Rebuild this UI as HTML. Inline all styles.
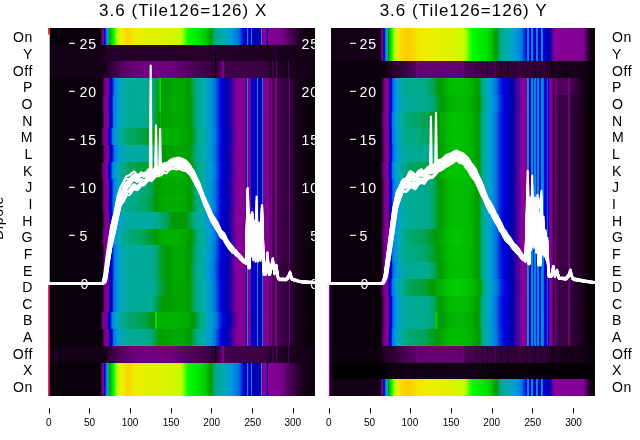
<!DOCTYPE html><html><head><meta charset="utf-8"><style>html,body{margin:0;padding:0;background:#fff}#c{position:relative;width:640px;height:440px;overflow:hidden;background:#fff}#c div{position:absolute}.cp{overflow:hidden;background:#0a000c}.bl{filter:blur(.45px);background:#0a000c}svg{position:absolute;left:0;top:0;display:block;will-change:transform}text{font-family:"Liberation Sans",sans-serif}</style></head><body><div id="c">
<div class="cp" style="left:48px;top:28px;width:267px;height:368px"><div class="bl" style="left:-4px;top:-4px;width:275px;height:376px">
<div style="left:4px;top:0px;width:267px;height:21px;background:linear-gradient(90deg,#0a000b 0.02%,#0a000b 19.49%,#100012 19.68%,#3b0044 19.96%,#6f007e 20.24%,#780089 20.34%,#870098 20.9%,#6a009d 20.99%,#2800a5 21.09%,#0000b4 21.18%,#0000d6 21.37%,#0013dd 21.46%,#0071dd 21.74%,#007edd 21.84%,#009adb 22.21%,#00a1c6 22.4%,#00aaa5 22.58%,#00aa84 22.77%,#00a34e 22.87%,#009d21 22.96%,#009b00 23.05%,#00b400 23.33%,#00d800 23.9%,#02ff00 24.74%,#96ff00 25.58%,#b5ff00 25.77%,#befe00 25.86%,#ddf400 26.89%,#edee00 27.83%,#fcd200 29.79%,#f5e000 31.1%,#eeee00 32.98%,#e4f100 36.35%,#def300 42.06%,#ccf900 48.43%,#bbff00 49.93%,#94ff00 50.58%,#00ff00 52.45%,#00f300 53.95%,#00e200 57.04%,#00c800 59.19%,#009b00 61.07%,#009a05 61.16%,#00a352 61.82%,#00aa88 62.57%,#00aa96 63.31%,#00aaaa 65.56%,#0099dd 68.46%,#0084dd 70.43%,#0076dd 71.37%,#0045dd 72.3%,#0000dc 73.24%,#0000c1 74.08%,#0000be 74.27%,#0000c0 74.36%,#0000da 74.46%,#0078dd 74.55%,#008add 74.64%,#008bdd 74.74%,#008add 74.93%,#0078dd 75.02%,#0000d7 75.11%,#0000bd 75.21%,#0000b7 75.86%,#0000b9 75.96%,#0000d5 76.05%,#0077dd 76.14%,#008add 76.24%,#008add 76.33%,#0077dd 76.42%,#0000d3 76.52%,#0000b7 76.61%,#0000b4 76.7%,#0000b4 78.67%,#0000ae 78.95%,#0300aa 79.04%,#3900a3 79.42%,#3c00a2 79.51%,#0000b5 79.61%,#005fdd 79.7%,#0089dd 79.79%,#008bdd 79.98%,#0089dd 80.07%,#004edd 80.17%,#2000a6 80.26%,#860097 80.36%,#850096 81.76%,#6d009c 81.85%,#0000aa 81.95%,#0000bd 82.04%,#0000bc 82.13%,#0400aa 82.23%,#77009b 82.32%,#840095 82.42%,#820093 84.85%,#770088 87.94%,#660075 88.78%,#4d0058 90.56%,#210026 94.4%,#130015 96.37%,#0c000e 98.15%,#0a000b 99.93%)"></div>
<div style="left:4px;top:21px;width:267px;height:16px;background:linear-gradient(90deg,#130016 0.02%,#130016 20.81%,#140017 20.99%,#220027 21.65%,#240029 21.93%,#26002b 62.28%,#240029 62.47%,#0f0011 62.66%,#0a000c 62.75%,#0c000d 62.85%,#1f0023 63.03%,#240029 63.22%,#200024 74.46%,#240029 74.64%,#2f0036 74.83%,#2f0036 74.93%,#2c0032 75.02%,#230029 75.11%,#1f0024 75.3%,#1c0020 83.91%,#1c0020 84.01%,#220027 84.1%,#2e0035 84.19%,#33003b 84.29%,#2e0035 84.38%,#220026 84.48%,#1c0020 84.57%,#1b001f 84.66%,#1b001f 85.32%,#2f0035 85.6%,#2a0030 85.69%,#200024 85.79%,#1a001e 85.97%,#130016 99.93%)"></div>
<div style="left:4px;top:37px;width:267px;height:17px;background:linear-gradient(90deg,#130016 0.02%,#130016 20.9%,#300036 23.24%,#4f005a 27.08%,#640072 30.73%,#700080 36.91%,#6d007d 46.46%,#51005c 53.2%,#35003c 61.91%,#300037 62.38%,#25002b 62.47%,#100012 62.57%,#060007 62.66%,#050006 62.75%,#0a000b 62.85%,#27002d 63.03%,#2e0034 63.13%,#50005c 64.91%,#5b0068 65%,#710081 65.09%,#780089 65.19%,#780089 65.75%,#780088 65.94%,#6d007d 66.03%,#51005c 66.12%,#44004d 66.22%,#42004c 66.31%,#390041 82.23%,#37003e 82.42%,#230028 82.79%,#210025 83.82%,#220027 83.91%,#300037 84.01%,#4f005b 84.1%,#5e006b 84.19%,#5e006b 84.29%,#4f005b 84.38%,#300037 84.48%,#210026 84.57%,#200024 85.22%,#210026 85.32%,#2f0036 85.41%,#4f005b 85.51%,#5e006b 85.6%,#5e006b 85.69%,#4f005a 85.79%,#2f0036 85.88%,#200025 85.97%,#1f0023 86.07%,#1d0022 89.72%,#2a0030 89.81%,#45004f 89.91%,#52005e 90%,#52005e 90.09%,#45004f 90.19%,#2a0030 90.28%,#1d0021 90.37%,#1c0020 90.47%,#110013 99.93%)"></div>
<div style="left:4px;top:54px;width:267px;height:17px;background:linear-gradient(90deg,#0a000b 0.02%,#0a000b 19.49%,#0d000f 20.15%,#100012 20.34%,#17001a 20.43%,#730083 21.18%,#780089 21.27%,#880099 22.77%,#72009c 22.87%,#1400a8 23.05%,#0000af 23.15%,#0000d3 23.61%,#0001dd 23.9%,#0023dd 24.27%,#0033dd 24.36%,#0073dd 24.64%,#0079dd 24.74%,#0098dd 26.05%,#00aaaa 28.01%,#00aa99 30.26%,#00aa96 34.48%,#00aa88 38.6%,#00a668 39.63%,#009d1e 41.5%,#009b13 41.59%,#00a700 41.69%,#00d000 41.78%,#00e200 41.87%,#00e400 42.06%,#00e200 42.15%,#00d100 42.25%,#00ac00 42.34%,#009c00 42.43%,#009b00 42.53%,#00a700 48.71%,#00a300 51.33%,#009900 52.73%,#009a05 52.92%,#00a669 54.98%,#00aa88 55.73%,#00aaaa 58.35%,#0099dd 60.69%,#0075dd 62.47%,#0000dd 64.81%,#0100aa 67.62%,#5200a0 69.31%,#880099 70.81%,#810092 74.27%,#3d00a2 74.36%,#004ddd 74.46%,#008cdd 74.55%,#008fdd 74.64%,#008cdd 74.83%,#004edd 74.93%,#2f00a4 75.02%,#860097 75.11%,#870098 75.86%,#5f009e 75.96%,#0000af 76.05%,#0000c2 76.14%,#0000c3 76.24%,#0000c4 78.01%,#0000c6 78.11%,#0003dd 78.2%,#007add 78.3%,#008add 78.39%,#008bdd 78.48%,#0088dd 78.67%,#0049dd 78.76%,#0000ab 78.86%,#0000af 78.95%,#0000c1 79.04%,#0000c4 79.42%,#0000c1 79.79%,#0000af 79.89%,#0000ab 79.98%,#0049dd 80.07%,#0088dd 80.17%,#008bdd 80.26%,#0088dd 80.36%,#0044dd 80.45%,#3d00a2 80.54%,#820093 80.64%,#810092 82.7%,#7d008e 82.88%,#6c007c 82.98%,#53005f 83.07%,#50005c 83.16%,#51005d 83.26%,#5f006d 83.35%,#780089 83.45%,#7a008b 83.54%,#780089 83.82%,#5d006b 83.91%,#4e0059 84.01%,#490054 84.76%,#4a0055 84.85%,#570064 84.94%,#740085 85.04%,#79008a 85.13%,#790089 85.6%,#730084 85.69%,#540060 85.79%,#460050 85.88%,#44004e 85.97%,#2f0036 89.91%,#300037 90%,#40004a 90.09%,#650073 90.19%,#750086 90.28%,#750086 90.37%,#640072 90.47%,#3e0047 90.56%,#2c0033 90.66%,#2a0030 90.75%,#130016 94.4%,#070008 99.93%)"></div>
<div style="left:4px;top:71px;width:267px;height:17px;background:linear-gradient(90deg,#0a000b 0.02%,#0a000b 19.31%,#0d000f 19.96%,#100012 20.15%,#17001a 20.24%,#730083 20.99%,#780089 21.09%,#880099 22.58%,#72009c 22.68%,#1400a8 22.87%,#0000af 22.96%,#0000d3 23.43%,#0001dd 23.71%,#0023dd 24.08%,#0033dd 24.18%,#0073dd 24.46%,#0079dd 24.55%,#0098dd 25.86%,#00aaab 27.83%,#00aa99 30.17%,#00aa95 34.48%,#00aa88 38.5%,#00a562 39.63%,#009c15 41.5%,#009a0a 41.59%,#00a900 41.69%,#00d000 41.78%,#00e200 41.87%,#00e400 42.06%,#00e200 42.15%,#00d200 42.25%,#00ae00 42.34%,#009e00 42.43%,#009e00 42.53%,#00a600 45.62%,#00aa00 48.71%,#00a600 51.33%,#009a00 53.01%,#00a666 55.07%,#00aa87 55.82%,#00aaaa 58.35%,#0099dd 60.69%,#0075dd 62.47%,#0000dd 64.81%,#0100aa 67.62%,#5200a0 69.31%,#880099 70.81%,#810092 74.27%,#3d00a2 74.36%,#004ddd 74.46%,#008cdd 74.55%,#008fdd 74.64%,#008cdd 74.83%,#004edd 74.93%,#2f00a4 75.02%,#860097 75.11%,#870098 75.86%,#5f009e 75.96%,#0000af 76.05%,#0000c2 76.14%,#0000c3 76.24%,#0000c4 78.01%,#0000c6 78.11%,#0003dd 78.2%,#007add 78.3%,#008add 78.39%,#008bdd 78.48%,#0088dd 78.67%,#0049dd 78.76%,#0000ab 78.86%,#0000af 78.95%,#0000c1 79.04%,#0000c4 79.42%,#0000c1 79.79%,#0000af 79.89%,#0000ab 79.98%,#0049dd 80.07%,#0088dd 80.17%,#008bdd 80.26%,#0088dd 80.36%,#0044dd 80.45%,#3d00a2 80.54%,#820093 80.64%,#810092 82.7%,#7d008e 82.88%,#6c007c 82.98%,#53005f 83.07%,#50005c 83.16%,#51005d 83.26%,#5f006d 83.35%,#780089 83.45%,#7a008b 83.54%,#780089 83.82%,#5d006b 83.91%,#4e0059 84.01%,#490054 84.76%,#4a0055 84.85%,#570064 84.94%,#740085 85.04%,#79008a 85.13%,#790089 85.6%,#730084 85.69%,#540060 85.79%,#460050 85.88%,#44004e 85.97%,#2f0036 89.91%,#300037 90%,#40004a 90.09%,#650073 90.19%,#750086 90.28%,#750086 90.37%,#640072 90.47%,#3e0047 90.56%,#2c0033 90.66%,#2a0030 90.75%,#130016 94.4%,#070008 99.93%)"></div>
<div style="left:4px;top:88px;width:267px;height:16px;background:linear-gradient(90deg,#0a000b 0.02%,#0a000b 19.4%,#0d000f 20.06%,#110013 20.24%,#19001c 20.34%,#750086 21.09%,#870098 22.58%,#860099 22.68%,#69009d 22.77%,#0a00a9 22.96%,#0000b1 23.05%,#0000d4 23.52%,#0000db 23.71%,#0004dd 23.8%,#0028dd 24.18%,#0039dd 24.27%,#0066dd 24.46%,#0077dd 24.55%,#0098dd 25.86%,#00aaa9 27.83%,#00aa96 30.17%,#00aa92 34.48%,#00aa87 38.13%,#00a55c 39.53%,#009a0a 41.59%,#009903 41.69%,#00a100 41.78%,#00b200 41.87%,#00ba00 41.97%,#00bb00 42.06%,#00ba00 42.15%,#00b400 42.25%,#00a500 42.34%,#009f00 42.43%,#00aa00 48.71%,#00a600 51.33%,#009a00 53.01%,#00a666 55.07%,#00aa87 55.82%,#00aaaa 58.35%,#0099dd 60.69%,#0075dd 62.47%,#0000dd 64.81%,#0100aa 67.62%,#5200a0 69.31%,#880099 70.81%,#810092 74.27%,#3d00a2 74.36%,#004ddd 74.46%,#008cdd 74.55%,#008fdd 74.64%,#008cdd 74.83%,#004edd 74.93%,#2f00a4 75.02%,#860097 75.11%,#870098 75.86%,#5f009e 75.96%,#0000af 76.05%,#0000c2 76.14%,#0000c3 76.24%,#0000c4 78.01%,#0000c6 78.11%,#0003dd 78.2%,#007add 78.3%,#008add 78.39%,#008bdd 78.48%,#0088dd 78.67%,#0049dd 78.76%,#0000ab 78.86%,#0000af 78.95%,#0000c1 79.04%,#0000c4 79.42%,#0000c1 79.79%,#0000af 79.89%,#0000ab 79.98%,#0049dd 80.07%,#0088dd 80.17%,#008bdd 80.26%,#0088dd 80.36%,#0044dd 80.45%,#3d00a2 80.54%,#820093 80.64%,#810092 82.79%,#7d008e 82.88%,#6c007c 82.98%,#53005f 83.07%,#50005c 83.16%,#51005d 83.26%,#5f006d 83.35%,#780089 83.45%,#7a008b 83.73%,#780089 83.82%,#5d006b 83.91%,#4e0059 84.01%,#490054 84.76%,#4a0055 84.85%,#570064 84.94%,#740085 85.04%,#79008a 85.13%,#790089 85.6%,#730084 85.69%,#540060 85.79%,#460050 85.88%,#44004e 85.97%,#2f0036 89.91%,#300037 90%,#40004a 90.09%,#650073 90.19%,#750086 90.28%,#750086 90.37%,#640072 90.47%,#3e0047 90.56%,#2c0033 90.66%,#2a0030 90.75%,#130016 94.4%,#070008 99.93%)"></div>
<div style="left:4px;top:104px;width:267px;height:17px;background:linear-gradient(90deg,#0a000b 0.02%,#0a000b 19.12%,#0d000e 19.68%,#0f0011 19.87%,#150018 19.96%,#710081 20.71%,#780089 20.81%,#870098 22.3%,#7a009b 22.4%,#4e00a0 22.49%,#1c00a6 22.58%,#0000ad 22.68%,#0000ce 23.05%,#0001dd 23.33%,#0030dd 23.8%,#0040dd 23.9%,#006fdd 24.08%,#007bdd 24.18%,#0098dd 25.11%,#00aaa9 26.52%,#00aa93 27.64%,#00aa88 28.95%,#00a562 30.17%,#00a351 34.48%,#009d22 38.13%,#009901 39.53%,#00b100 42.81%,#00b000 48.8%,#00a900 51.33%,#00a100 52.73%,#009900 53.48%,#00a34e 55.07%,#00aa87 56.39%,#00aaaa 58.73%,#0099dc 60.88%,#0077dd 62.66%,#0001dd 65%,#0000ab 67.72%,#4c00a1 69.31%,#80009a 70.71%,#880099 71.09%,#810092 74.27%,#3b00a3 74.36%,#004ddd 74.46%,#008cdd 74.55%,#008fdd 74.64%,#008cdd 74.83%,#004edd 74.93%,#2e00a4 75.02%,#860097 75.11%,#870098 75.86%,#5f009e 75.96%,#0000af 76.05%,#0000c2 76.14%,#0000c3 76.24%,#0000c4 78.01%,#0000c6 78.11%,#0003dd 78.2%,#007add 78.3%,#008add 78.39%,#008bdd 78.48%,#0088dd 78.67%,#004add 78.76%,#0000ac 78.86%,#0000af 78.95%,#0000c1 79.04%,#0000c4 79.51%,#0000c1 79.79%,#0000af 79.89%,#0000ac 79.98%,#004add 80.07%,#0088dd 80.17%,#008bdd 80.26%,#0088dd 80.36%,#0045dd 80.45%,#3c00a3 80.54%,#820093 80.64%,#810092 82.79%,#7d008e 82.88%,#6d007c 82.98%,#540060 83.07%,#51005c 83.16%,#52005e 83.26%,#60006e 83.35%,#780089 83.45%,#7a008b 83.73%,#780089 83.82%,#5e006b 83.91%,#4f005a 84.01%,#4a0055 84.76%,#4b0056 84.85%,#580064 84.94%,#740085 85.04%,#79008a 85.13%,#790089 85.6%,#740084 85.69%,#550061 85.79%,#470051 85.88%,#45004f 85.97%,#300036 89.91%,#310038 90%,#41004a 90.09%,#650073 90.19%,#750086 90.28%,#750086 90.37%,#640072 90.47%,#3e0047 90.56%,#2d0033 90.66%,#2b0031 90.75%,#130016 94.4%,#070008 99.93%)"></div>
<div style="left:4px;top:121px;width:267px;height:17px;background:linear-gradient(90deg,#0a000b 0.02%,#0a000b 19.49%,#0d000f 20.15%,#100012 20.34%,#17001a 20.43%,#730083 21.18%,#780089 21.27%,#880099 22.77%,#72009c 22.87%,#1500a7 23.05%,#0000ae 23.15%,#0000d1 23.61%,#0000dc 23.9%,#0004dd 23.99%,#001ddd 24.27%,#002ddd 24.36%,#006add 24.64%,#0075dd 24.74%,#0098dd 26.33%,#00a6b5 28.01%,#00aaa1 30.26%,#00aa9d 34.76%,#00aa94 38.13%,#00aa88 39.53%,#009a0c 42.53%,#009a05 42.72%,#009900 43.09%,#00a600 48.71%,#00a300 51.33%,#009900 52.73%,#009a05 52.92%,#00a669 54.98%,#00aa88 55.73%,#00aaaa 58.35%,#0099dd 60.69%,#0075dd 62.47%,#0000dd 64.81%,#0100aa 67.62%,#5200a0 69.31%,#880099 70.81%,#810092 74.27%,#3d00a2 74.36%,#004ddd 74.46%,#008cdd 74.55%,#008fdd 74.64%,#008cdd 74.83%,#004edd 74.93%,#2f00a4 75.02%,#860097 75.11%,#870098 75.86%,#5f009e 75.96%,#0000af 76.05%,#0000c2 76.14%,#0000c3 76.24%,#0000c4 78.01%,#0000c6 78.11%,#0003dd 78.2%,#007add 78.3%,#008add 78.39%,#008bdd 78.48%,#0088dd 78.67%,#0049dd 78.76%,#0000ab 78.86%,#0000af 78.95%,#0000c1 79.04%,#0000c4 79.42%,#0000c1 79.79%,#0000af 79.89%,#0000ab 79.98%,#0049dd 80.07%,#0088dd 80.17%,#008bdd 80.26%,#0088dd 80.36%,#0044dd 80.45%,#3d00a2 80.54%,#820093 80.64%,#810092 82.79%,#7d008e 82.88%,#6c007c 82.98%,#53005f 83.07%,#50005c 83.16%,#51005d 83.26%,#5f006d 83.35%,#780089 83.45%,#7a008b 83.73%,#780089 83.82%,#5d006b 83.91%,#4e0059 84.01%,#490054 84.76%,#4a0055 84.85%,#570064 84.94%,#740085 85.04%,#79008a 85.13%,#790089 85.6%,#730084 85.69%,#540060 85.79%,#460050 85.88%,#44004e 85.97%,#2f0036 89.91%,#300037 90%,#40004a 90.09%,#650073 90.19%,#750086 90.28%,#750086 90.37%,#640072 90.47%,#3e0047 90.56%,#2c0033 90.66%,#2a0030 90.75%,#130016 94.4%,#070008 99.93%)"></div>
<div style="left:4px;top:138px;width:267px;height:17px;background:linear-gradient(90deg,#0a000b 0.02%,#0a000b 19.03%,#0d000f 19.68%,#110013 19.87%,#19001c 19.96%,#750086 20.71%,#860099 22.3%,#69009d 22.4%,#0900a9 22.58%,#0000b2 22.68%,#0000d1 23.05%,#0000db 23.24%,#0005dd 23.33%,#002add 23.71%,#0036dd 23.8%,#0078dd 24.08%,#0081dd 24.27%,#0097dd 25.02%,#00aaa9 26.42%,#00aa90 27.64%,#00aa88 28.58%,#00a457 30.17%,#00a247 34.48%,#009c18 38.13%,#009900 39.16%,#00b300 42.81%,#00b000 48.8%,#00a900 51.33%,#00a100 52.73%,#009900 53.48%,#00a34e 55.07%,#00aa87 56.39%,#00aaaa 58.73%,#0099dc 60.88%,#0077dd 62.66%,#0001dd 65%,#0000ab 67.72%,#4c00a1 69.31%,#80009a 70.71%,#880099 71.09%,#810092 74.27%,#3b00a3 74.36%,#004ddd 74.46%,#008cdd 74.55%,#008fdd 74.64%,#008cdd 74.83%,#004edd 74.93%,#2e00a4 75.02%,#860097 75.11%,#870098 75.86%,#5f009e 75.96%,#0000af 76.05%,#0000c2 76.14%,#0000c3 76.24%,#0000c4 78.01%,#0000c6 78.11%,#0003dd 78.2%,#007add 78.3%,#008add 78.39%,#008bdd 78.48%,#0088dd 78.67%,#004add 78.76%,#0000ac 78.86%,#0000af 78.95%,#0000c1 79.04%,#0000c4 79.51%,#0000c1 79.79%,#0000af 79.89%,#0000ac 79.98%,#004add 80.07%,#0088dd 80.17%,#008bdd 80.26%,#0088dd 80.36%,#0045dd 80.45%,#3c00a3 80.54%,#820093 80.64%,#810092 82.79%,#7d008e 82.88%,#6d007c 82.98%,#540060 83.07%,#51005c 83.16%,#52005e 83.26%,#60006e 83.35%,#780089 83.45%,#7a008b 83.73%,#780089 83.82%,#5e006b 83.91%,#4f005a 84.01%,#4a0055 84.76%,#4b0056 84.85%,#580064 84.94%,#740085 85.04%,#79008a 85.13%,#790089 85.6%,#740084 85.69%,#550061 85.79%,#470051 85.88%,#45004f 85.97%,#300036 89.91%,#310038 90%,#41004a 90.09%,#650073 90.19%,#750086 90.28%,#750086 90.37%,#640072 90.47%,#3e0047 90.56%,#2d0033 90.66%,#2b0031 90.75%,#130016 94.4%,#070008 99.93%)"></div>
<div style="left:4px;top:155px;width:267px;height:16px;background:linear-gradient(90deg,#0a000b 0.02%,#0a000b 19.31%,#0d000f 19.96%,#100012 20.15%,#17001a 20.24%,#730083 20.99%,#780089 21.09%,#880099 22.58%,#71009c 22.68%,#1200a8 22.87%,#0000b0 22.96%,#0000ce 23.33%,#0000dd 23.61%,#002cdd 24.08%,#003ddd 24.18%,#006cdd 24.36%,#007add 24.46%,#0099dd 25.58%,#00aaab 27.17%,#00aa9e 27.92%,#00aa8b 30.26%,#00aa88 34.48%,#00a55c 38.13%,#00a036 39.53%,#009900 41.03%,#00a700 42.81%,#00ab00 48.61%,#00a600 51.33%,#009a00 53.01%,#00a666 55.07%,#00aa87 55.82%,#00aaaa 58.35%,#0099dd 60.69%,#0075dd 62.47%,#0000dd 64.81%,#0100aa 67.62%,#5200a0 69.31%,#880099 70.81%,#810092 74.27%,#3d00a2 74.36%,#004ddd 74.46%,#008cdd 74.55%,#008fdd 74.64%,#008cdd 74.83%,#004edd 74.93%,#2f00a4 75.02%,#860097 75.11%,#870098 75.86%,#5f009e 75.96%,#0000af 76.05%,#0000c2 76.14%,#0000c3 76.24%,#0000c4 78.01%,#0000c6 78.11%,#0003dd 78.2%,#007add 78.3%,#008add 78.39%,#008bdd 78.48%,#0088dd 78.67%,#0049dd 78.76%,#0000ab 78.86%,#0000af 78.95%,#0000c1 79.04%,#0000c4 79.42%,#0000c1 79.79%,#0000af 79.89%,#0000ab 79.98%,#0049dd 80.07%,#0088dd 80.17%,#008bdd 80.26%,#0088dd 80.36%,#0044dd 80.45%,#3d00a2 80.54%,#820093 80.64%,#810092 82.79%,#7d008e 82.88%,#6c007c 82.98%,#53005f 83.07%,#50005c 83.16%,#51005d 83.26%,#5f006d 83.35%,#780089 83.45%,#7a008b 83.73%,#780089 83.82%,#5d006b 83.91%,#4e0059 84.01%,#490054 84.76%,#4a0055 84.85%,#570064 84.94%,#740085 85.04%,#79008a 85.13%,#790089 85.6%,#730084 85.69%,#540060 85.79%,#460050 85.88%,#44004e 85.97%,#2f0036 89.91%,#300037 90%,#40004a 90.09%,#650073 90.19%,#750086 90.28%,#750086 90.37%,#640072 90.47%,#3e0047 90.56%,#2c0033 90.66%,#2a0030 90.75%,#130016 94.4%,#070008 99.93%)"></div>
<div style="left:4px;top:171px;width:267px;height:17px;background:linear-gradient(90deg,#0a000b 0.02%,#0a000b 19.31%,#0d000f 19.96%,#110014 20.15%,#1a001e 20.24%,#770088 20.99%,#870098 22.49%,#82009a 22.58%,#5f009e 22.68%,#2e00a4 22.77%,#0200aa 22.87%,#0000d1 23.33%,#0000db 23.52%,#0004dd 23.61%,#0026dd 23.99%,#0033dd 24.08%,#0076dd 24.36%,#007fdd 24.55%,#0098dd 25.49%,#00a9ac 26.99%,#00aa9c 27.83%,#00aa89 30.26%,#00a87a 34.48%,#00a34d 38.13%,#009e27 39.53%,#009900 40.56%,#00ab00 42.72%,#00af00 48.61%,#00a900 51.33%,#009900 53.39%,#00a456 55.07%,#00aa88 56.2%,#00aaaa 58.54%,#0099dd 60.79%,#0076dd 62.57%,#0000dd 64.91%,#0100aa 67.72%,#4f00a0 69.31%,#83009a 70.71%,#880099 70.99%,#810092 74.27%,#3c00a2 74.36%,#004ddd 74.46%,#008cdd 74.55%,#008fdd 74.64%,#008cdd 74.83%,#004edd 74.93%,#2f00a4 75.02%,#860097 75.11%,#870098 75.86%,#5f009e 75.96%,#0000af 76.05%,#0000c2 76.14%,#0000c3 76.24%,#0000c4 78.01%,#0000c6 78.11%,#0003dd 78.2%,#007add 78.3%,#008add 78.39%,#008bdd 78.48%,#0088dd 78.67%,#004add 78.76%,#0000ac 78.86%,#0000af 78.95%,#0000c1 79.04%,#0000c4 79.51%,#0000c1 79.79%,#0000af 79.89%,#0000ac 79.98%,#004add 80.07%,#0088dd 80.17%,#008bdd 80.26%,#0088dd 80.36%,#0045dd 80.45%,#3c00a2 80.54%,#820093 80.64%,#810092 82.79%,#7d008e 82.88%,#6d007c 82.98%,#53005f 83.07%,#51005c 83.16%,#51005d 83.26%,#60006d 83.35%,#780089 83.45%,#7a008b 83.73%,#780089 83.82%,#5e006b 83.91%,#4e0059 84.01%,#4a0054 84.76%,#4b0055 84.85%,#580064 84.94%,#740085 85.04%,#79008a 85.13%,#790089 85.6%,#730084 85.69%,#550061 85.79%,#460050 85.88%,#45004e 85.97%,#2f0036 89.91%,#300037 90%,#41004a 90.09%,#650073 90.19%,#750086 90.28%,#750086 90.37%,#640072 90.47%,#3e0047 90.56%,#2d0033 90.66%,#2a0030 90.75%,#130016 94.4%,#070008 99.93%)"></div>
<div style="left:4px;top:188px;width:267px;height:17px;background:linear-gradient(90deg,#0a000b 0.02%,#0a000b 19.49%,#0d000f 20.15%,#100012 20.34%,#17001a 20.43%,#730083 21.18%,#780089 21.27%,#880099 22.77%,#72009c 22.87%,#1500a7 23.05%,#0000ae 23.15%,#0000d2 23.61%,#0000dc 23.9%,#0006dd 23.99%,#001fdd 24.27%,#002fdd 24.36%,#006ddd 24.64%,#0077dd 24.74%,#0099dd 26.24%,#00a7b3 27.92%,#00aaaa 28.67%,#00aa9e 30.45%,#00aa9d 34.48%,#00aaa4 38.22%,#00aa88 41.69%,#00a66a 42.72%,#00a55d 44.21%,#009e28 45.71%,#009900 47.02%,#009c00 48.71%,#009901 51.42%,#009f2e 52.83%,#00aa88 54.79%,#00aaaa 57.88%,#0099dd 60.32%,#0075dd 62.28%,#0000dd 64.63%,#0000aa 67.43%,#59009f 69.31%,#870099 70.62%,#880099 70.71%,#810092 74.27%,#3e00a2 74.36%,#004ddd 74.46%,#008cdd 74.55%,#008fdd 74.64%,#008cdd 74.83%,#004edd 74.93%,#3000a4 75.02%,#860097 75.11%,#870098 75.86%,#5f009e 75.96%,#0000af 76.05%,#0000c2 76.14%,#0000c3 76.24%,#0000c4 78.01%,#0000c6 78.11%,#0003dd 78.2%,#007add 78.3%,#008add 78.39%,#008bdd 78.48%,#0088dd 78.67%,#0049dd 78.76%,#0000ab 78.86%,#0000ae 78.95%,#0000c1 79.04%,#0000c4 79.23%,#0000c1 79.79%,#0000ae 79.89%,#0000ab 79.98%,#0049dd 80.07%,#0088dd 80.17%,#008bdd 80.26%,#0088dd 80.36%,#0044dd 80.45%,#3e00a2 80.54%,#820093 80.64%,#810092 82.79%,#7d008e 82.88%,#6c007b 82.98%,#52005e 83.07%,#4f005b 83.16%,#50005c 83.26%,#5f006c 83.35%,#780089 83.45%,#7a008b 83.73%,#780089 83.82%,#5d006a 83.91%,#4d0058 84.01%,#490053 84.76%,#4a0054 84.85%,#570063 84.94%,#740085 85.04%,#79008a 85.13%,#790089 85.6%,#730084 85.69%,#540060 85.79%,#45004f 85.88%,#43004d 85.97%,#2f0035 89.91%,#300036 90%,#400049 90.09%,#650073 90.19%,#750086 90.28%,#750086 90.37%,#640072 90.47%,#3e0047 90.56%,#2c0032 90.66%,#2a0030 90.75%,#130016 94.4%,#070008 99.93%)"></div>
<div style="left:4px;top:205px;width:267px;height:16px;background:linear-gradient(90deg,#0a000b 0.02%,#0a000b 19.21%,#0d000f 19.87%,#110013 20.06%,#19001c 20.15%,#750086 20.9%,#870098 22.4%,#860099 22.49%,#68009d 22.58%,#0800a9 22.77%,#0000b2 22.87%,#0000d1 23.24%,#0000db 23.43%,#0004dd 23.52%,#0027dd 23.9%,#0033dd 23.99%,#0047dd 24.08%,#0076dd 24.27%,#0080dd 24.46%,#0098dd 25.3%,#00aaaa 26.8%,#00aa98 27.73%,#00aa88 29.61%,#00a875 30.36%,#00a665 34.57%,#00a036 38.22%,#009c16 39.44%,#009900 40.09%,#00ae00 42.72%,#00b000 48.52%,#00a900 51.33%,#00a100 52.73%,#009900 53.48%,#00a34e 55.07%,#00aa87 56.39%,#00aaaa 58.73%,#0099dc 60.88%,#0077dd 62.66%,#0001dd 65%,#0000ab 67.72%,#4c00a1 69.31%,#80009a 70.71%,#880099 71.09%,#810092 74.27%,#3b00a3 74.36%,#004ddd 74.46%,#008cdd 74.55%,#008fdd 74.64%,#008cdd 74.83%,#004edd 74.93%,#2e00a4 75.02%,#860097 75.11%,#870098 75.86%,#5f009e 75.96%,#0000af 76.05%,#0000c2 76.14%,#0000c3 76.24%,#0000c4 78.01%,#0000c6 78.11%,#0003dd 78.2%,#007add 78.3%,#008add 78.39%,#008bdd 78.48%,#0088dd 78.67%,#004add 78.76%,#0000ac 78.86%,#0000af 78.95%,#0000c1 79.04%,#0000c4 79.51%,#0000c1 79.79%,#0000af 79.89%,#0000ac 79.98%,#004add 80.07%,#0088dd 80.17%,#008bdd 80.26%,#0088dd 80.36%,#0045dd 80.45%,#3c00a3 80.54%,#820093 80.64%,#810092 82.79%,#7d008e 82.88%,#6d007c 82.98%,#540060 83.07%,#51005c 83.16%,#52005e 83.26%,#60006e 83.35%,#780089 83.45%,#7a008b 83.73%,#780089 83.82%,#5e006b 83.91%,#4f005a 84.01%,#4a0055 84.76%,#4b0056 84.85%,#580064 84.94%,#740085 85.04%,#79008a 85.13%,#790089 85.6%,#740084 85.69%,#550061 85.79%,#470051 85.88%,#45004f 85.97%,#300036 89.91%,#310038 90%,#41004a 90.09%,#650073 90.19%,#750086 90.28%,#750086 90.37%,#640072 90.47%,#3e0047 90.56%,#2d0033 90.66%,#2b0031 90.75%,#130016 94.4%,#070008 99.93%)"></div>
<div style="left:4px;top:221px;width:267px;height:17px;background:linear-gradient(90deg,#0a000b 0.02%,#0a000b 19.49%,#0d000f 20.15%,#100012 20.34%,#17001a 20.43%,#730083 21.18%,#780089 21.27%,#880099 22.77%,#72009c 22.87%,#1400a7 23.05%,#0000af 23.15%,#0000d2 23.61%,#0000dd 23.9%,#0021dd 24.27%,#0031dd 24.36%,#0070dd 24.64%,#0078dd 24.74%,#0099dd 26.14%,#00a9ad 28.01%,#00aa9b 30.26%,#00aa98 38.13%,#00aa88 40%,#009d22 42.62%,#009b0f 44.12%,#009900 44.78%,#00a700 47.12%,#00a900 48.71%,#00a600 51.33%,#009a00 53.01%,#00a666 55.07%,#00aa87 55.82%,#00aaaa 58.35%,#0099dd 60.69%,#0075dd 62.47%,#0000dd 64.81%,#0100aa 67.62%,#5200a0 69.31%,#880099 70.81%,#810092 74.27%,#3d00a2 74.36%,#004ddd 74.46%,#008cdd 74.55%,#008fdd 74.64%,#008cdd 74.83%,#004edd 74.93%,#2f00a4 75.02%,#860097 75.11%,#870098 75.86%,#5f009e 75.96%,#0000af 76.05%,#0000c2 76.14%,#0000c3 76.24%,#0000c4 78.01%,#0000c6 78.11%,#0003dd 78.2%,#007add 78.3%,#008add 78.39%,#008bdd 78.48%,#0088dd 78.67%,#0049dd 78.76%,#0000ab 78.86%,#0000af 78.95%,#0000c1 79.04%,#0000c4 79.42%,#0000c1 79.79%,#0000af 79.89%,#0000ab 79.98%,#0049dd 80.07%,#0088dd 80.17%,#008bdd 80.26%,#0088dd 80.36%,#0044dd 80.45%,#3d00a2 80.54%,#820093 80.64%,#810092 82.79%,#7d008e 82.88%,#6c007c 82.98%,#53005f 83.07%,#50005c 83.16%,#51005d 83.26%,#5f006d 83.35%,#780089 83.45%,#7a008b 83.73%,#780089 83.82%,#5d006b 83.91%,#4e0059 84.01%,#490054 84.76%,#4a0055 84.85%,#570064 84.94%,#740085 85.04%,#79008a 85.13%,#790089 85.6%,#730084 85.69%,#540060 85.79%,#460050 85.88%,#44004e 85.97%,#2f0036 89.91%,#300037 90%,#40004a 90.09%,#650073 90.19%,#750086 90.28%,#750086 90.37%,#640072 90.47%,#3e0047 90.56%,#2c0033 90.66%,#2a0030 90.75%,#130016 94.4%,#070008 99.93%)"></div>
<div style="left:4px;top:238px;width:267px;height:17px;background:linear-gradient(90deg,#0a000b 0.02%,#0a000b 19.49%,#0d000f 20.15%,#100012 20.34%,#17001a 20.43%,#730083 21.18%,#780089 21.27%,#880099 22.77%,#72009c 22.87%,#1400a7 23.05%,#0000af 23.15%,#0000d2 23.61%,#0000dd 23.9%,#0021dd 24.27%,#0031dd 24.36%,#0070dd 24.64%,#0078dd 24.74%,#0099dd 26.14%,#00a9ad 28.01%,#00aa9b 30.26%,#00aa98 38.13%,#00aa88 40%,#009d22 42.62%,#009b0f 44.12%,#009900 44.78%,#00a700 47.12%,#00a900 48.71%,#00a600 51.33%,#009a00 52.83%,#009901 52.92%,#00a773 54.98%,#00aa88 55.45%,#00aaab 58.07%,#0099dd 60.41%,#0075dd 62.28%,#0000dd 64.63%,#0000aa 67.43%,#59009f 69.31%,#870099 70.62%,#880099 70.71%,#810092 74.27%,#3e00a2 74.36%,#004ddd 74.46%,#008cdd 74.55%,#008fdd 74.64%,#008cdd 74.83%,#004edd 74.93%,#3000a4 75.02%,#860097 75.11%,#870098 75.86%,#5f009e 75.96%,#0000af 76.05%,#0000c2 76.14%,#0000c3 76.24%,#0000c4 78.01%,#0000c6 78.11%,#0003dd 78.2%,#007add 78.3%,#008add 78.39%,#008bdd 78.48%,#0088dd 78.67%,#0049dd 78.76%,#0000ab 78.86%,#0000ae 78.95%,#0000c1 79.04%,#0000c4 79.23%,#0000c1 79.79%,#0000ae 79.89%,#0000ab 79.98%,#0049dd 80.07%,#0088dd 80.17%,#008bdd 80.26%,#0088dd 80.36%,#0044dd 80.45%,#3e00a2 80.54%,#820093 80.64%,#810092 82.79%,#7d008e 82.88%,#6c007b 82.98%,#52005e 83.07%,#4f005b 83.16%,#50005c 83.26%,#5f006c 83.35%,#780089 83.45%,#7a008b 83.73%,#780089 83.82%,#5d006a 83.91%,#4d0058 84.01%,#490053 84.76%,#4a0054 84.85%,#570063 84.94%,#740085 85.04%,#79008a 85.13%,#790089 85.6%,#730084 85.69%,#540060 85.79%,#45004f 85.88%,#43004d 85.97%,#2f0035 89.91%,#300036 90%,#400049 90.09%,#650073 90.19%,#750086 90.28%,#750086 90.37%,#640072 90.47%,#3e0047 90.56%,#2c0032 90.66%,#2a0030 90.75%,#130016 94.4%,#070008 99.93%)"></div>
<div style="left:4px;top:255px;width:267px;height:17px;background:linear-gradient(90deg,#0a000b 0.02%,#0a000b 19.49%,#0d000f 20.15%,#110014 20.34%,#1a001e 20.43%,#770088 21.18%,#870098 22.68%,#83009a 22.77%,#60009e 22.87%,#3000a4 22.96%,#0500a9 23.05%,#0000b2 23.15%,#0000cf 23.52%,#0003dd 23.9%,#001add 24.18%,#0026dd 24.27%,#0065dd 24.55%,#0075dd 24.64%,#0098dd 26.05%,#00a9ad 28.01%,#00aa9b 30.26%,#00aa99 38.13%,#00aa88 40.19%,#009e2a 42.72%,#009c1a 44.21%,#009900 45.24%,#00a400 47.21%,#00a600 48.71%,#00a300 51.33%,#009900 52.73%,#009a05 52.92%,#00a669 54.98%,#00aa88 55.73%,#00aaaa 58.35%,#0099dd 60.69%,#0075dd 62.47%,#0000dd 64.81%,#0100aa 67.62%,#5200a0 69.31%,#880099 70.81%,#810092 74.27%,#3d00a2 74.36%,#004ddd 74.46%,#008cdd 74.55%,#008fdd 74.64%,#008cdd 74.83%,#004edd 74.93%,#2f00a4 75.02%,#860097 75.11%,#870098 75.86%,#5f009e 75.96%,#0000af 76.05%,#0000c2 76.14%,#0000c3 76.24%,#0000c4 78.01%,#0000c6 78.11%,#0003dd 78.2%,#007add 78.3%,#008add 78.39%,#008bdd 78.48%,#0088dd 78.67%,#0049dd 78.76%,#0000ab 78.86%,#0000af 78.95%,#0000c1 79.04%,#0000c4 79.42%,#0000c1 79.79%,#0000af 79.89%,#0000ab 79.98%,#0049dd 80.07%,#0088dd 80.17%,#008bdd 80.26%,#0088dd 80.36%,#0044dd 80.45%,#3d00a2 80.54%,#820093 80.64%,#810092 82.79%,#7d008e 82.88%,#6c007c 82.98%,#53005f 83.07%,#50005c 83.16%,#51005d 83.26%,#5f006d 83.35%,#780089 83.45%,#7a008b 83.73%,#780089 83.82%,#5d006b 83.91%,#4e0059 84.01%,#490054 84.76%,#4a0055 84.85%,#570064 84.94%,#740085 85.04%,#79008a 85.13%,#790089 85.6%,#730084 85.69%,#540060 85.79%,#460050 85.88%,#44004e 85.97%,#2f0036 89.91%,#300037 90%,#40004a 90.09%,#650073 90.19%,#750086 90.28%,#750086 90.37%,#640072 90.47%,#3e0047 90.56%,#2c0033 90.66%,#2a0030 90.75%,#130016 94.4%,#070008 99.93%)"></div>
<div style="left:4px;top:272px;width:267px;height:16px;background:linear-gradient(90deg,#0a000b 0.02%,#0a000b 19.49%,#0d000f 20.15%,#110014 20.34%,#1a001e 20.43%,#770088 21.18%,#870098 22.68%,#83009a 22.77%,#60009e 22.87%,#3000a4 22.96%,#0500a9 23.05%,#0000b2 23.15%,#0000cf 23.52%,#0003dd 23.9%,#001add 24.18%,#0026dd 24.27%,#0065dd 24.55%,#0075dd 24.64%,#0098dd 26.05%,#00a9ad 28.01%,#00aa9b 30.26%,#00aa91 38.03%,#00aa88 39.25%,#00a981 39.53%,#00a03c 41.22%,#009a08 42.62%,#009900 43.18%,#00a600 48.71%,#00a300 51.33%,#009900 52.73%,#009a05 52.92%,#00a669 54.98%,#00aa88 55.73%,#00aaaa 58.35%,#0099dd 60.69%,#0075dd 62.47%,#0000dd 64.81%,#0100aa 67.62%,#5200a0 69.31%,#880099 70.81%,#810092 74.27%,#3d00a2 74.36%,#004ddd 74.46%,#008cdd 74.55%,#008fdd 74.64%,#008cdd 74.83%,#004edd 74.93%,#2f00a4 75.02%,#860097 75.11%,#870098 75.86%,#5f009e 75.96%,#0000af 76.05%,#0000c2 76.14%,#0000c3 76.24%,#0000c4 78.01%,#0000c6 78.11%,#0003dd 78.2%,#007add 78.3%,#008add 78.39%,#008bdd 78.48%,#0088dd 78.67%,#0049dd 78.76%,#0000ab 78.86%,#0000af 78.95%,#0000c1 79.04%,#0000c4 79.42%,#0000c1 79.79%,#0000af 79.89%,#0000ab 79.98%,#0049dd 80.07%,#0088dd 80.17%,#008bdd 80.26%,#0088dd 80.36%,#0044dd 80.45%,#3d00a2 80.54%,#820093 80.64%,#810092 82.79%,#7d008e 82.88%,#6c007c 82.98%,#53005f 83.07%,#50005c 83.16%,#51005d 83.26%,#5f006d 83.35%,#780089 83.45%,#7a008b 83.73%,#780089 83.82%,#5d006b 83.91%,#4e0059 84.01%,#490054 84.76%,#4a0055 84.85%,#570064 84.94%,#740085 85.04%,#79008a 85.13%,#790089 85.6%,#730084 85.69%,#540060 85.79%,#460050 85.88%,#44004e 85.97%,#2f0036 89.91%,#300037 90%,#40004a 90.09%,#650073 90.19%,#750086 90.28%,#750086 90.37%,#640072 90.47%,#3e0047 90.56%,#2c0033 90.66%,#2a0030 90.75%,#130016 94.4%,#070008 99.93%)"></div>
<div style="left:4px;top:288px;width:267px;height:17px;background:linear-gradient(90deg,#0a000b 0.02%,#0a000b 18.84%,#0d000f 19.49%,#110013 19.68%,#19001c 19.78%,#750086 20.52%,#860099 22.12%,#69009d 22.21%,#0a00a9 22.4%,#0000b1 22.49%,#0000cf 22.87%,#0001dd 23.15%,#0025dd 23.52%,#0031dd 23.61%,#0045dd 23.71%,#0074dd 23.9%,#007fdd 24.08%,#0097dd 24.93%,#00aaaa 26.42%,#00aa95 27.45%,#00aa87 29.14%,#00a66b 30.07%,#00a459 34.48%,#009e29 38.13%,#009a00 39.72%,#009f00 40.09%,#00b300 40.19%,#00dc00 40.28%,#00f000 40.37%,#00f100 40.47%,#00f000 40.56%,#00de00 40.66%,#00b700 40.75%,#00a600 40.84%,#00a500 40.94%,#00b200 42.72%,#00b300 48.71%,#00a800 52.73%,#009900 54.23%,#009e24 55.07%,#00a34e 56.2%,#00aa89 57.23%,#00aaab 59.38%,#0098dd 61.35%,#0076dd 63.13%,#001cdd 64.81%,#0000dc 65.47%,#0100aa 68.09%,#4200a2 69.4%,#79009b 70.81%,#880099 71.46%,#820093 74.27%,#3800a3 74.36%,#004edd 74.46%,#008cdd 74.55%,#008fdd 74.74%,#008cdd 74.83%,#004fdd 74.93%,#2c00a4 75.02%,#860097 75.11%,#870098 75.86%,#5f009e 75.96%,#0000af 76.05%,#0000c2 76.14%,#0000c3 76.24%,#0000c4 78.01%,#0000c6 78.11%,#0003dd 78.2%,#007add 78.3%,#008add 78.39%,#008bdd 78.48%,#0088dd 78.67%,#004bdd 78.76%,#0000ad 78.86%,#0000af 78.95%,#0000c1 79.04%,#0000c4 79.23%,#0000c1 79.79%,#0000af 79.89%,#0000ad 79.98%,#004bdd 80.07%,#0088dd 80.17%,#008bdd 80.26%,#0088dd 80.36%,#0046dd 80.45%,#3a00a3 80.54%,#830094 80.64%,#810092 82.7%,#7d008e 82.88%,#6e007e 82.98%,#550061 83.07%,#53005e 83.16%,#53005f 83.26%,#61006f 83.35%,#780089 83.45%,#7a008b 83.54%,#780089 83.82%,#5f006d 83.91%,#50005c 84.01%,#4c0056 84.76%,#4c0057 84.85%,#590066 84.94%,#750085 85.04%,#79008a 85.13%,#79008a 85.6%,#740084 85.69%,#560062 85.79%,#480052 85.88%,#460050 85.97%,#300037 89.91%,#310039 90%,#41004b 90.09%,#650073 90.19%,#750086 90.28%,#750086 90.37%,#640073 90.47%,#3f0048 90.56%,#2e0034 90.66%,#2b0032 90.75%,#140016 94.4%,#080009 99.93%)"></div>
<div style="left:4px;top:305px;width:267px;height:17px;background:linear-gradient(90deg,#0a000b 0.02%,#0a000b 19.49%,#0d000e 20.06%,#0f0011 20.24%,#150018 20.34%,#710081 21.09%,#780089 21.18%,#870098 22.68%,#7a009b 22.77%,#4e00a0 22.87%,#1d00a6 22.96%,#0000ad 23.05%,#0000d2 23.52%,#0001dd 23.8%,#0023dd 24.18%,#0032dd 24.27%,#0072dd 24.55%,#0079dd 24.64%,#0097dd 25.86%,#00aaa9 27.83%,#00aa97 30.17%,#00aa92 34.48%,#00aa87 38.13%,#00a55c 39.53%,#009900 41.87%,#00a100 42.81%,#00aa00 48.71%,#00a600 51.33%,#009a00 53.01%,#00a666 55.07%,#00aa87 55.82%,#00aaaa 58.35%,#0099dd 60.69%,#0075dd 62.47%,#0000dd 64.81%,#0100aa 67.62%,#5200a0 69.31%,#880099 70.81%,#810092 74.27%,#3d00a2 74.36%,#004ddd 74.46%,#008cdd 74.55%,#008fdd 74.64%,#008cdd 74.83%,#004edd 74.93%,#2f00a4 75.02%,#860097 75.11%,#870098 75.86%,#5f009e 75.96%,#0000af 76.05%,#0000c2 76.14%,#0000c3 76.24%,#0000c4 78.01%,#0000c6 78.11%,#0003dd 78.2%,#007add 78.3%,#008add 78.39%,#008bdd 78.48%,#0088dd 78.67%,#0049dd 78.76%,#0000ab 78.86%,#0000af 78.95%,#0000c1 79.04%,#0000c4 79.42%,#0000c1 79.79%,#0000af 79.89%,#0000ab 79.98%,#0049dd 80.07%,#0088dd 80.17%,#008bdd 80.26%,#0088dd 80.36%,#0044dd 80.45%,#3d00a2 80.54%,#820093 80.64%,#810092 82.79%,#7d008e 82.88%,#6c007c 82.98%,#53005f 83.07%,#50005c 83.16%,#51005d 83.26%,#5f006d 83.35%,#780089 83.45%,#7a008b 83.73%,#780089 83.82%,#5d006b 83.91%,#4e0059 84.01%,#490054 84.76%,#4a0055 84.85%,#570064 84.94%,#740085 85.04%,#79008a 85.13%,#790089 85.6%,#730084 85.69%,#540060 85.79%,#460050 85.88%,#44004e 85.97%,#2f0036 89.91%,#300037 90%,#40004a 90.09%,#650073 90.19%,#750086 90.28%,#750086 90.37%,#640072 90.47%,#3e0047 90.56%,#2c0033 90.66%,#2a0030 90.75%,#130016 94.4%,#070008 99.93%)"></div>
<div style="left:4px;top:322px;width:267px;height:17px;background:linear-gradient(90deg,#130016 0.02%,#130016 20.9%,#300036 23.24%,#4f005a 27.08%,#640072 30.73%,#700080 36.91%,#6d007d 46.46%,#51005c 53.2%,#35003c 61.91%,#300037 62.38%,#25002b 62.47%,#100012 62.57%,#060007 62.66%,#050006 62.75%,#0a000b 62.85%,#27002d 63.03%,#2e0034 63.13%,#50005c 64.91%,#5b0068 65%,#710081 65.09%,#780089 65.19%,#780089 65.75%,#780088 65.94%,#6d007d 66.03%,#51005c 66.12%,#44004d 66.22%,#42004c 66.31%,#390041 82.23%,#37003e 82.42%,#230028 82.79%,#210025 83.82%,#220027 83.91%,#300037 84.01%,#4f005b 84.1%,#5e006b 84.19%,#5e006b 84.29%,#4f005b 84.38%,#300037 84.48%,#210026 84.57%,#200024 85.22%,#210026 85.32%,#2f0036 85.41%,#4f005b 85.51%,#5e006b 85.6%,#5e006b 85.69%,#4f005a 85.79%,#2f0036 85.88%,#200025 85.97%,#1f0023 86.07%,#1d0022 89.72%,#2a0030 89.81%,#45004f 89.91%,#52005e 90%,#52005e 90.09%,#45004f 90.19%,#2a0030 90.28%,#1d0021 90.37%,#1c0020 90.47%,#110013 99.93%)"></div>
<div style="left:4px;top:339px;width:267px;height:16px;background:linear-gradient(90deg,#0a000b 0.02%,#0a000b 19.49%,#100012 19.68%,#3b0044 19.96%,#6f007e 20.24%,#780089 20.34%,#870098 20.9%,#6a009d 20.99%,#2800a5 21.09%,#0000b4 21.18%,#0000d6 21.37%,#0013dd 21.46%,#0071dd 21.74%,#007edd 21.84%,#009adb 22.21%,#00a1c6 22.4%,#00aaa5 22.58%,#00aa84 22.77%,#00a34e 22.87%,#009d21 22.96%,#009b00 23.05%,#00b400 23.33%,#00d800 23.9%,#02ff00 24.74%,#96ff00 25.58%,#b5ff00 25.77%,#befe00 25.86%,#ddf400 26.89%,#edee00 27.83%,#fcd200 29.79%,#f5e000 31.1%,#eeee00 32.98%,#e4f100 36.35%,#def300 42.06%,#ccf900 48.43%,#bbff00 49.93%,#94ff00 50.58%,#00ff00 52.45%,#00f300 53.95%,#00e200 57.04%,#00c800 59.19%,#009b00 61.07%,#009a05 61.16%,#00a352 61.82%,#00aa88 62.57%,#00aa96 63.31%,#00aaaa 65.56%,#0099dd 68.46%,#0084dd 70.43%,#0076dd 71.37%,#0045dd 72.3%,#0000dc 73.24%,#0000c1 74.08%,#0000be 74.27%,#0000c0 74.36%,#0000da 74.46%,#0078dd 74.55%,#008add 74.64%,#008bdd 74.74%,#008add 74.93%,#0078dd 75.02%,#0000d7 75.11%,#0000bd 75.21%,#0000b7 75.86%,#0000b9 75.96%,#0000d5 76.05%,#0077dd 76.14%,#008add 76.24%,#008add 76.33%,#0077dd 76.42%,#0000d3 76.52%,#0000b7 76.61%,#0000b4 76.7%,#0000b4 78.67%,#0000ae 78.95%,#0300aa 79.04%,#3900a3 79.42%,#3c00a2 79.51%,#0000b5 79.61%,#005fdd 79.7%,#0089dd 79.79%,#008bdd 79.98%,#0089dd 80.07%,#004edd 80.17%,#2000a6 80.26%,#860097 80.36%,#850096 81.76%,#6d009c 81.85%,#0000aa 81.95%,#0000bd 82.04%,#0000bc 82.13%,#0400aa 82.23%,#77009b 82.32%,#840095 82.42%,#820093 84.85%,#770088 87.94%,#660075 88.78%,#4d0058 90.56%,#210026 94.4%,#130015 96.37%,#0c000e 98.15%,#0a000b 99.93%)"></div>
<div style="left:4px;top:355px;width:267px;height:21px;background:linear-gradient(90deg,#0a000b 0.02%,#0a000b 19.49%,#100012 19.68%,#3b0044 19.96%,#6f007e 20.24%,#780089 20.34%,#870098 20.9%,#6a009d 20.99%,#2800a5 21.09%,#0000b4 21.18%,#0000d6 21.37%,#0013dd 21.46%,#0071dd 21.74%,#007edd 21.84%,#009adb 22.21%,#00a1c6 22.4%,#00aaa5 22.58%,#00aa84 22.77%,#00a34e 22.87%,#009d21 22.96%,#009b00 23.05%,#00b400 23.33%,#00d800 23.9%,#02ff00 24.74%,#96ff00 25.58%,#b5ff00 25.77%,#befe00 25.86%,#ddf400 26.89%,#edee00 27.83%,#fcd200 29.79%,#f5e000 31.1%,#eeee00 32.98%,#e4f100 36.35%,#def300 42.06%,#ccf900 48.43%,#bbff00 49.93%,#94ff00 50.58%,#00ff00 52.45%,#00f300 53.95%,#00e200 57.04%,#00c800 59.19%,#009b00 61.07%,#009a05 61.16%,#00a352 61.82%,#00aa88 62.57%,#00aa96 63.31%,#00aaaa 65.56%,#0099dd 68.46%,#0084dd 70.43%,#0076dd 71.37%,#0045dd 72.3%,#0000dc 73.24%,#0000c1 74.08%,#0000be 74.27%,#0000c0 74.36%,#0000da 74.46%,#0078dd 74.55%,#008add 74.64%,#008bdd 74.74%,#008add 74.93%,#0078dd 75.02%,#0000d7 75.11%,#0000bd 75.21%,#0000b7 75.86%,#0000b9 75.96%,#0000d5 76.05%,#0077dd 76.14%,#008add 76.24%,#008add 76.33%,#0077dd 76.42%,#0000d3 76.52%,#0000b7 76.61%,#0000b4 76.7%,#0000b4 78.67%,#0000ae 78.95%,#0300aa 79.04%,#3900a3 79.42%,#3c00a2 79.51%,#0000b5 79.61%,#005fdd 79.7%,#0089dd 79.79%,#008bdd 79.98%,#0089dd 80.07%,#004edd 80.17%,#2000a6 80.26%,#860097 80.36%,#850096 81.76%,#6d009c 81.85%,#0000aa 81.95%,#0000bd 82.04%,#0000bc 82.13%,#0400aa 82.23%,#77009b 82.32%,#840095 82.42%,#820093 84.85%,#770088 87.94%,#660075 88.78%,#4d0058 90.56%,#210026 94.4%,#130015 96.37%,#0c000e 98.15%,#0a000b 99.93%)"></div>
</div></div>
<div class="cp" style="left:329px;top:28px;width:266px;height:368px"><div class="bl" style="left:-4px;top:-4px;width:274px;height:376px">
<div style="left:4px;top:0px;width:266px;height:21px;background:linear-gradient(90deg,#140017 0.02%,#140017 19.19%,#160019 19.29%,#1c0020 19.38%,#2b0031 19.47%,#780089 19.85%,#870098 20.23%,#65009d 20.32%,#1300a8 20.51%,#0000b2 20.6%,#0000d1 20.79%,#0007dd 20.88%,#0072dd 21.17%,#007fdd 21.26%,#0097dd 21.54%,#009cd4 21.64%,#00a0c7 21.73%,#00aaa5 21.92%,#00aa84 22.11%,#00a350 22.2%,#009902 22.39%,#00e400 23.23%,#00fe00 23.7%,#11ff00 23.8%,#96ff00 24.36%,#bbff00 24.55%,#ccf900 24.92%,#eeee00 25.96%,#f8da00 27.09%,#ffcc00 29.53%,#fad600 31.6%,#f1e700 33.57%,#eeee00 37.99%,#e4f100 43.53%,#d1f800 49.27%,#c7fb00 50.39%,#bbff00 51.15%,#b7ff00 51.24%,#9fff00 51.62%,#19ff00 53.31%,#01ff00 53.78%,#00e200 58.76%,#00c800 60.92%,#009a00 62.89%,#009a06 62.99%,#00a353 63.74%,#00aa88 64.4%,#00aa9c 65.43%,#00aaaa 66.94%,#00a3bf 68.44%,#0099dd 70.13%,#0077dd 72.48%,#005ddd 72.95%,#0007dd 73.98%,#0001dd 74.08%,#0000dc 74.17%,#0000dd 74.27%,#002bdd 74.36%,#007ddd 74.45%,#008add 74.55%,#008bdd 74.74%,#008add 75.02%,#007cdd 75.11%,#0019dd 75.21%,#0000d2 75.3%,#0000cc 75.86%,#000ddd 75.96%,#007add 76.05%,#008add 76.15%,#008bdd 76.33%,#008add 76.62%,#007add 76.71%,#000add 76.8%,#0000c9 76.9%,#0000c8 77.65%,#0007dd 77.74%,#007add 77.84%,#008add 77.93%,#008bdd 78.12%,#008add 78.31%,#007add 78.4%,#0005dd 78.5%,#0000c7 78.59%,#0000c3 79.44%,#0000c5 79.53%,#0002dd 79.62%,#0079dd 79.72%,#008add 79.81%,#008bdd 80%,#008add 80.19%,#0079dd 80.28%,#0000dd 80.38%,#0000c4 80.47%,#0000c2 80.56%,#0000be 82.54%,#0000ab 83.1%,#1000a8 83.29%,#5f009e 84.04%,#880099 84.89%,#820093 94.76%,#770088 96.07%,#380040 97.2%,#310038 97.39%,#130016 98.52%,#0a000b 99.92%)"></div>
<div style="left:4px;top:21px;width:266px;height:16px;background:linear-gradient(90deg,#140017 0.02%,#140017 19.19%,#160019 19.29%,#1c0020 19.38%,#2b0031 19.47%,#780089 19.85%,#870098 20.23%,#65009d 20.32%,#1300a8 20.51%,#0000b2 20.6%,#0000d1 20.79%,#0007dd 20.88%,#0072dd 21.17%,#007fdd 21.26%,#0097dd 21.54%,#009cd4 21.64%,#00a0c7 21.73%,#00aaa5 21.92%,#00aa84 22.11%,#00a350 22.2%,#009902 22.39%,#00e400 23.23%,#00fe00 23.7%,#11ff00 23.8%,#96ff00 24.36%,#bbff00 24.55%,#ccf900 24.92%,#eeee00 25.96%,#f8da00 27.09%,#ffcc00 29.53%,#fad600 31.6%,#f1e700 33.57%,#eeee00 37.99%,#e4f100 43.53%,#d1f800 49.27%,#c7fb00 50.39%,#bbff00 51.15%,#b7ff00 51.24%,#9fff00 51.62%,#19ff00 53.31%,#01ff00 53.78%,#00e200 58.76%,#00c800 60.92%,#009a00 62.89%,#009a06 62.99%,#00a353 63.74%,#00aa88 64.4%,#00aa9c 65.43%,#00aaaa 66.94%,#00a3bf 68.44%,#0099dd 70.13%,#0077dd 72.48%,#005ddd 72.95%,#0007dd 73.98%,#0001dd 74.08%,#0000dc 74.17%,#0000dd 74.27%,#002bdd 74.36%,#007ddd 74.45%,#008add 74.55%,#008bdd 74.74%,#008add 75.02%,#007cdd 75.11%,#0019dd 75.21%,#0000d2 75.3%,#0000cc 75.86%,#000ddd 75.96%,#007add 76.05%,#008add 76.15%,#008bdd 76.33%,#008add 76.62%,#007add 76.71%,#000add 76.8%,#0000c9 76.9%,#0000c8 77.65%,#0007dd 77.74%,#007add 77.84%,#008add 77.93%,#008bdd 78.12%,#008add 78.31%,#007add 78.4%,#0005dd 78.5%,#0000c7 78.59%,#0000c3 79.44%,#0000c5 79.53%,#0002dd 79.62%,#0079dd 79.72%,#008add 79.81%,#008bdd 80%,#008add 80.19%,#0079dd 80.28%,#0000dd 80.38%,#0000c4 80.47%,#0000c2 80.56%,#0000be 82.54%,#0000ab 83.1%,#1000a8 83.29%,#5f009e 84.04%,#880099 84.89%,#820093 94.76%,#770088 96.07%,#380040 97.2%,#310038 97.39%,#130016 98.52%,#0a000b 99.92%)"></div>
<div style="left:4px;top:37px;width:266px;height:17px;background:linear-gradient(90deg,#0b000c 0.02%,#0b000c 21.17%,#1b001e 22.11%,#380040 28.4%,#4e0059 32.26%,#560063 32.73%,#5e006b 32.82%,#6e007e 32.91%,#770088 33.01%,#780089 33.1%,#750085 33.29%,#660075 33.38%,#60006e 33.48%,#5f006d 33.57%,#640072 37.99%,#640072 48.33%,#560062 49.83%,#5d006a 49.92%,#6d007c 50.02%,#740084 50.11%,#750085 50.3%,#740084 50.39%,#6c007b 50.49%,#5a0067 50.58%,#51005d 50.68%,#4a0055 52.27%,#3b0043 52.56%,#3b0043 52.74%,#470051 53.03%,#43004d 55.19%,#36003e 55.47%,#390041 55.66%,#42004c 55.85%,#400049 57.26%,#400049 57.35%,#3a0042 57.44%,#2e0035 57.54%,#29002f 57.63%,#2e0035 57.73%,#390042 57.82%,#3f0048 57.91%,#3d0046 59.04%,#3d0045 59.14%,#37003f 59.23%,#2c0032 59.32%,#26002c 59.42%,#26002b 59.51%,#26002c 59.7%,#3b0044 59.98%,#390041 62.14%,#3e0047 62.24%,#4a0054 62.33%,#4f005a 62.42%,#4f005b 62.61%,#4f005a 62.71%,#490054 62.8%,#3d0046 62.89%,#37003f 62.99%,#34003c 64.3%,#2b0031 64.49%,#27002d 64.68%,#28002d 64.87%,#34003b 65.15%,#33003b 66.84%,#2e0035 66.94%,#240029 67.03%,#1f0023 67.22%,#1f0024 67.5%,#33003a 67.78%,#33003a 69.85%,#27002c 70.13%,#32003a 70.41%,#33003a 71.35%,#3f0048 71.64%,#3f0048 71.82%,#3c0044 72.01%,#33003a 72.2%,#310039 74.17%,#28002e 74.36%,#25002b 74.55%,#26002b 74.74%,#310038 75.02%,#310037 77.09%,#2c0032 77.18%,#220027 77.27%,#1d0022 77.46%,#1e0022 77.65%,#220027 77.74%,#2c0032 77.84%,#310038 78.03%,#300037 79.44%,#2b0032 79.53%,#220027 79.62%,#1d0021 79.81%,#1d0022 80%,#300037 80.28%,#300036 81.41%,#27002c 81.6%,#240029 81.79%,#240029 81.97%,#2f0036 82.26%,#1d0021 83.1%,#1c0020 83.48%,#140017 83.67%,#110013 83.85%,#110014 84.04%,#1b001f 84.32%,#1b001f 84.98%,#230028 85.17%,#26002b 85.36%,#230028 85.55%,#1b001f 85.73%,#19001c 87.8%,#0f0011 88.08%,#110014 88.27%,#18001c 88.46%,#18001b 89.12%,#110013 89.3%,#0e0011 89.49%,#17001b 89.87%,#160019 92.03%,#1f0023 92.31%,#1f0023 92.5%,#150018 92.97%,#140017 95.13%,#0f0011 95.51%,#130015 96.35%,#100012 97.58%,#09000b 97.86%,#09000b 98.23%,#0d000f 98.52%,#0a000b 99.92%)"></div>
<div style="left:4px;top:54px;width:266px;height:17px;background:linear-gradient(90deg,#0a000b 0.02%,#0b000c 19.29%,#0d000f 19.57%,#150018 19.76%,#770088 20.79%,#880099 22.48%,#72009c 22.58%,#1100a8 22.76%,#0000b2 22.86%,#0000d2 23.14%,#0002dd 23.42%,#000add 23.52%,#0013dd 23.61%,#0023dd 23.7%,#0071dd 23.98%,#0079dd 24.08%,#0099dd 25.49%,#00a0c8 26.15%,#00aaaa 27.46%,#00aa92 28.97%,#00aa87 36.48%,#00a245 39.68%,#009900 41.37%,#00b800 44.94%,#00c200 48.52%,#00b800 52.84%,#009a00 56.13%,#009a0a 56.32%,#00a24b 57.07%,#00aa85 57.54%,#00aa8a 57.63%,#00aa99 58.1%,#00aaab 59.04%,#0099dd 60.92%,#0076dd 62.8%,#001cdd 64.59%,#0000dd 65.62%,#0000d2 66.56%,#0000aa 68.82%,#880099 72.58%,#850096 74.27%,#1800a7 74.36%,#0079dd 74.45%,#009bd8 74.55%,#009cd3 74.64%,#009cd3 74.83%,#009bd8 74.92%,#007add 75.02%,#0000ac 75.11%,#4800a1 75.21%,#3900a3 75.3%,#3600a3 75.68%,#2d00a4 75.77%,#0000bc 75.86%,#0065dd 75.96%,#0089dd 76.05%,#008bdd 76.15%,#008add 76.62%,#007fdd 76.71%,#0042dd 76.8%,#001fdd 76.9%,#0042dd 76.99%,#007fdd 77.09%,#008add 77.18%,#008add 77.74%,#007fdd 77.84%,#0042dd 77.93%,#001cdd 78.03%,#001cdd 78.12%,#0042dd 78.21%,#007fdd 78.31%,#008add 78.4%,#008add 78.78%,#007fdd 78.87%,#0039dd 78.97%,#0010dd 79.06%,#000cdd 79.15%,#000cdd 79.44%,#0010dd 79.53%,#0039dd 79.62%,#007fdd 79.72%,#008add 79.81%,#008add 80.56%,#007edd 80.66%,#0030dd 80.75%,#0004dd 80.85%,#0000dd 80.94%,#0000dd 81.69%,#0003dd 81.79%,#0024dd 81.88%,#006bdd 81.97%,#007cdd 82.07%,#0059dd 82.16%,#0000d5 82.26%,#0000c0 82.35%,#0000bc 82.54%,#0700a9 82.63%,#81009a 82.73%,#820093 82.82%,#810092 83.48%,#79008a 83.95%,#680076 84.04%,#5c0069 84.14%,#5a0067 84.23%,#5b0068 84.98%,#650073 85.08%,#770088 85.17%,#770088 85.36%,#5f006d 85.45%,#540060 85.55%,#53005f 85.64%,#53005f 89.77%,#540060 89.87%,#5f006d 89.96%,#770088 90.06%,#780089 90.43%,#6f007f 90.53%,#4a0054 90.62%,#3f0047 90.71%,#400049 92.31%,#300037 92.59%,#2f0036 94.19%,#2b0031 94.29%,#210026 94.38%,#1b001f 94.57%,#080009 98.05%,#050006 99.92%)"></div>
<div style="left:4px;top:71px;width:266px;height:17px;background:linear-gradient(90deg,#0a000b 0.02%,#0b000c 19.29%,#0d000f 19.57%,#150018 19.76%,#770088 20.79%,#880099 22.48%,#72009c 22.58%,#1100a8 22.76%,#0000b2 22.86%,#0000d2 23.14%,#0001dd 23.42%,#0012dd 23.61%,#0021dd 23.7%,#006edd 23.98%,#0078dd 24.08%,#0098dd 25.58%,#009ecd 26.15%,#00aaaa 27.74%,#00aa98 28.97%,#00aa8f 36.39%,#00aa88 37.99%,#00a562 39.77%,#009f2f 41%,#009900 42.31%,#00af00 44.94%,#00ba00 48.52%,#00b200 52.93%,#009900 56.41%,#00a03b 57.16%,#00a984 57.73%,#00aa8a 57.82%,#00aa95 58.2%,#00aaa9 59.32%,#0099dd 61.2%,#0078dd 63.08%,#0027dd 64.68%,#0000dd 66.18%,#0000aa 69.1%,#880099 72.76%,#850096 74.27%,#1500a7 74.36%,#007add 74.45%,#009bd8 74.55%,#009cd3 74.64%,#009cd3 74.83%,#009bd8 74.92%,#007add 75.02%,#0000ad 75.11%,#4700a1 75.21%,#3900a3 75.3%,#3600a3 75.68%,#2d00a4 75.77%,#0000bc 75.86%,#0065dd 75.96%,#0089dd 76.05%,#008bdd 76.15%,#008add 76.62%,#007fdd 76.71%,#0042dd 76.8%,#001fdd 76.9%,#0042dd 76.99%,#007fdd 77.09%,#008add 77.18%,#008add 77.74%,#007fdd 77.84%,#0042dd 77.93%,#001cdd 78.03%,#001cdd 78.12%,#0042dd 78.21%,#007fdd 78.31%,#008add 78.4%,#008add 78.78%,#007fdd 78.87%,#0039dd 78.97%,#0010dd 79.06%,#000cdd 79.15%,#000cdd 79.44%,#0010dd 79.53%,#0039dd 79.62%,#007fdd 79.72%,#008add 79.81%,#008add 80.56%,#007edd 80.66%,#0030dd 80.75%,#0004dd 80.85%,#0000dd 80.94%,#0000dd 81.69%,#0003dd 81.79%,#0024dd 81.88%,#006bdd 81.97%,#007cdd 82.07%,#0059dd 82.16%,#0000d5 82.26%,#0000c0 82.35%,#0000bc 82.54%,#0700a9 82.63%,#81009a 82.73%,#820093 82.82%,#810092 83.48%,#780089 83.95%,#590066 84.04%,#490053 84.14%,#470051 84.23%,#460050 84.98%,#540060 85.08%,#730084 85.17%,#780089 85.26%,#730083 85.36%,#53005f 85.45%,#44004e 85.55%,#43004c 85.64%,#37003e 89.77%,#380040 89.87%,#490054 89.96%,#700080 90.06%,#780089 90.15%,#780089 90.43%,#6f007f 90.53%,#470051 90.62%,#34003c 90.71%,#320039 90.81%,#080009 98.05%,#050006 99.92%)"></div>
<div style="left:4px;top:88px;width:266px;height:16px;background:linear-gradient(90deg,#0a000b 0.02%,#0b000c 19.1%,#0d000f 19.38%,#150018 19.57%,#770088 20.6%,#880099 22.29%,#72009c 22.39%,#1100a8 22.58%,#0000b2 22.67%,#0000d2 22.95%,#0000db 23.14%,#0003dd 23.23%,#000cdd 23.33%,#0016dd 23.42%,#0026dd 23.52%,#0077dd 23.8%,#0097dd 25.02%,#00aaa9 26.71%,#00aa88 28.68%,#00a87c 28.97%,#00a352 36.39%,#009f31 37.99%,#009c17 39.68%,#009900 40.34%,#00bb00 44.94%,#00c300 48.52%,#00b800 52.84%,#009a00 56.13%,#009a0a 56.32%,#00a24b 57.07%,#00aa85 57.54%,#00aa8a 57.63%,#00aa99 58.1%,#00aaab 59.04%,#0099dd 60.92%,#0076dd 62.8%,#001cdd 64.59%,#0000dd 65.62%,#0000d2 66.56%,#0000aa 68.82%,#880099 72.58%,#850096 74.27%,#1800a7 74.36%,#0079dd 74.45%,#009bd8 74.55%,#009cd3 74.64%,#009cd3 74.83%,#009bd8 74.92%,#007add 75.02%,#0000ac 75.11%,#4800a1 75.21%,#3900a3 75.3%,#3600a3 75.68%,#2d00a4 75.77%,#0000bc 75.86%,#0065dd 75.96%,#0089dd 76.05%,#008bdd 76.15%,#008add 76.62%,#007fdd 76.71%,#0042dd 76.8%,#001fdd 76.9%,#0042dd 76.99%,#007fdd 77.09%,#008add 77.18%,#008add 77.74%,#007fdd 77.84%,#0042dd 77.93%,#001cdd 78.03%,#001cdd 78.12%,#0042dd 78.21%,#007fdd 78.31%,#008add 78.4%,#008add 78.78%,#007fdd 78.87%,#0039dd 78.97%,#0010dd 79.06%,#000cdd 79.15%,#000cdd 79.44%,#0010dd 79.53%,#0039dd 79.62%,#007fdd 79.72%,#008add 79.81%,#008add 80.56%,#007edd 80.66%,#0030dd 80.75%,#0004dd 80.85%,#0000dd 80.94%,#0000dd 81.69%,#0003dd 81.79%,#0024dd 81.88%,#006bdd 81.97%,#007cdd 82.07%,#0059dd 82.16%,#0000d5 82.26%,#0000c0 82.35%,#0000bc 82.54%,#0700a9 82.63%,#81009a 82.73%,#820093 82.82%,#810092 83.48%,#780089 83.95%,#590065 84.04%,#480052 84.14%,#460050 84.23%,#45004f 84.98%,#53005f 85.08%,#730083 85.17%,#780089 85.26%,#730083 85.36%,#52005e 85.45%,#44004d 85.55%,#42004b 85.64%,#36003d 89.77%,#37003f 89.87%,#490053 89.96%,#6f007f 90.06%,#780089 90.15%,#780089 90.43%,#6f007e 90.53%,#460050 90.62%,#33003b 90.71%,#310038 90.81%,#080009 98.05%,#050006 99.92%)"></div>
<div style="left:4px;top:104px;width:266px;height:17px;background:linear-gradient(90deg,#0a000b 0.02%,#0a000b 19.1%,#0d000f 19.47%,#160019 19.66%,#770088 20.7%,#870098 22.29%,#860099 22.39%,#69009d 22.48%,#0700a9 22.67%,#0000b5 22.76%,#0000d3 23.05%,#0000db 23.23%,#000ddd 23.42%,#0018dd 23.52%,#002add 23.61%,#0061dd 23.8%,#0077dd 23.89%,#0098dd 25.21%,#00a2c1 26.05%,#00aaa9 26.99%,#00aa8b 28.87%,#00aa88 30.56%,#00a667 36.48%,#00a247 37.99%,#009e2a 39.68%,#009a00 40.81%,#00ba00 44.94%,#00c200 48.52%,#00b800 52.84%,#009a00 56.13%,#009a0a 56.32%,#00a24b 57.07%,#00aa85 57.54%,#00aa8a 57.63%,#00aa99 58.1%,#00aaab 59.04%,#0099dd 60.92%,#0076dd 62.8%,#001cdd 64.59%,#0000dd 65.62%,#0000d2 66.56%,#0000aa 68.82%,#880099 72.58%,#850096 74.27%,#1800a7 74.36%,#0079dd 74.45%,#009bd8 74.55%,#009cd3 74.64%,#009cd3 74.83%,#009bd8 74.92%,#007add 75.02%,#0000ac 75.11%,#4800a1 75.21%,#3900a3 75.3%,#3600a3 75.68%,#2d00a4 75.77%,#0000bc 75.86%,#0065dd 75.96%,#0089dd 76.05%,#008bdd 76.15%,#008add 76.62%,#007fdd 76.71%,#0042dd 76.8%,#001fdd 76.9%,#0042dd 76.99%,#007fdd 77.09%,#008add 77.18%,#008add 77.74%,#007fdd 77.84%,#0042dd 77.93%,#001cdd 78.03%,#001cdd 78.12%,#0042dd 78.21%,#007fdd 78.31%,#008add 78.4%,#008add 78.78%,#007fdd 78.87%,#0039dd 78.97%,#0010dd 79.06%,#000cdd 79.15%,#000cdd 79.44%,#0010dd 79.53%,#0039dd 79.62%,#007fdd 79.72%,#008add 79.81%,#008add 80.56%,#007edd 80.66%,#0030dd 80.75%,#0004dd 80.85%,#0000dd 80.94%,#0000dd 81.69%,#0003dd 81.79%,#0024dd 81.88%,#006bdd 81.97%,#007cdd 82.07%,#0059dd 82.16%,#0000d5 82.26%,#0000c0 82.35%,#0000bc 82.54%,#0700a9 82.63%,#81009a 82.73%,#820093 82.82%,#810092 83.48%,#780089 83.95%,#590065 84.04%,#480052 84.14%,#460050 84.23%,#45004f 84.98%,#53005f 85.08%,#730083 85.17%,#780089 85.26%,#730083 85.36%,#52005e 85.45%,#44004d 85.55%,#42004b 85.64%,#36003d 89.77%,#37003f 89.87%,#490053 89.96%,#6f007f 90.06%,#780089 90.15%,#780089 90.43%,#6f007e 90.53%,#460050 90.62%,#33003b 90.71%,#310038 90.81%,#080009 98.05%,#050006 99.92%)"></div>
<div style="left:4px;top:121px;width:266px;height:17px;background:linear-gradient(90deg,#0a000b 0.02%,#0b000c 19.29%,#0d000f 19.57%,#150018 19.76%,#770088 20.79%,#880099 22.48%,#72009c 22.58%,#1100a8 22.76%,#0000b2 22.86%,#0000d2 23.14%,#0001dd 23.42%,#0012dd 23.61%,#0021dd 23.7%,#006edd 23.98%,#0078dd 24.08%,#0098dd 25.58%,#009ecd 26.15%,#00aaaa 27.74%,#00aa98 28.97%,#00aa8e 36.39%,#00aa88 37.52%,#00a457 39.68%,#009d1c 41%,#009900 41.75%,#00b600 44.94%,#00c100 48.52%,#00b800 52.84%,#009a00 56.13%,#009a0a 56.32%,#00a24b 57.07%,#00aa85 57.54%,#00aa8a 57.63%,#00aa99 58.1%,#00aaab 59.04%,#0099dd 60.92%,#0076dd 62.8%,#001cdd 64.59%,#0000dd 65.62%,#0000d2 66.56%,#0000aa 68.82%,#880099 72.58%,#850096 74.27%,#1800a7 74.36%,#0079dd 74.45%,#009bd8 74.55%,#009cd3 74.64%,#009cd3 74.83%,#009bd8 74.92%,#007add 75.02%,#0000ac 75.11%,#4800a1 75.21%,#3900a3 75.3%,#3600a3 75.68%,#2d00a4 75.77%,#0000bc 75.86%,#0065dd 75.96%,#0089dd 76.05%,#008bdd 76.15%,#008add 76.62%,#007fdd 76.71%,#0042dd 76.8%,#001fdd 76.9%,#0042dd 76.99%,#007fdd 77.09%,#008add 77.18%,#008add 77.74%,#007fdd 77.84%,#0042dd 77.93%,#001cdd 78.03%,#001cdd 78.12%,#0042dd 78.21%,#007fdd 78.31%,#008add 78.4%,#008add 78.78%,#007fdd 78.87%,#0039dd 78.97%,#0010dd 79.06%,#000cdd 79.15%,#000cdd 79.44%,#0010dd 79.53%,#0039dd 79.62%,#007fdd 79.72%,#008add 79.81%,#008add 80.56%,#007edd 80.66%,#0030dd 80.75%,#0004dd 80.85%,#0000dd 80.94%,#0000dd 81.69%,#0003dd 81.79%,#0024dd 81.88%,#006bdd 81.97%,#007cdd 82.07%,#0059dd 82.16%,#0000d5 82.26%,#0000c0 82.35%,#0000bc 82.54%,#0700a9 82.63%,#81009a 82.73%,#820093 82.82%,#810092 83.48%,#780089 83.95%,#590065 84.04%,#480052 84.14%,#460050 84.23%,#45004f 84.98%,#53005f 85.08%,#730083 85.17%,#780089 85.26%,#730083 85.36%,#52005e 85.45%,#44004d 85.55%,#42004b 85.64%,#36003d 89.77%,#37003f 89.87%,#490053 89.96%,#6f007f 90.06%,#780089 90.15%,#780089 90.43%,#6f007e 90.53%,#460050 90.62%,#33003b 90.71%,#310038 90.81%,#080009 98.05%,#050006 99.92%)"></div>
<div style="left:4px;top:138px;width:266px;height:17px;background:linear-gradient(90deg,#0a000b 0.02%,#0a000c 19%,#100013 19.47%,#720082 20.51%,#780089 20.6%,#870098 22.2%,#82009a 22.29%,#60009e 22.39%,#0000aa 22.58%,#0000c3 22.76%,#0000d4 22.95%,#0000dc 23.14%,#0010dd 23.33%,#001cdd 23.42%,#0030dd 23.52%,#0068dd 23.7%,#0079dd 23.8%,#0099dd 25.02%,#00a3be 25.86%,#00aaab 26.52%,#00aa88 28.5%,#00a876 28.78%,#00a771 28.97%,#00a143 36.39%,#009d21 37.99%,#009a09 39.59%,#009900 39.96%,#00bf00 44.94%,#00c600 48.52%,#00bb00 52.84%,#009a00 56.22%,#009904 56.32%,#00a247 57.07%,#00a982 57.54%,#00aa8a 57.63%,#00aa98 58.1%,#00aaaa 59.04%,#0099dd 60.92%,#0076dd 62.8%,#001cdd 64.59%,#0000dd 65.62%,#0000d2 66.56%,#0000aa 68.82%,#880099 72.58%,#850096 74.27%,#1800a7 74.36%,#0079dd 74.45%,#009bd8 74.55%,#009cd3 74.64%,#009cd3 74.83%,#009bd8 74.92%,#007add 75.02%,#0000ac 75.11%,#4800a1 75.21%,#3900a3 75.3%,#3600a3 75.68%,#2d00a4 75.77%,#0000bc 75.86%,#0065dd 75.96%,#0089dd 76.05%,#008bdd 76.15%,#008add 76.62%,#007fdd 76.71%,#0042dd 76.8%,#001fdd 76.9%,#0042dd 76.99%,#007fdd 77.09%,#008add 77.18%,#008add 77.74%,#007fdd 77.84%,#0042dd 77.93%,#001cdd 78.03%,#001cdd 78.12%,#0042dd 78.21%,#007fdd 78.31%,#008add 78.4%,#008add 78.78%,#007fdd 78.87%,#0039dd 78.97%,#0010dd 79.06%,#000cdd 79.15%,#000cdd 79.44%,#0010dd 79.53%,#0039dd 79.62%,#007fdd 79.72%,#008add 79.81%,#008add 80.56%,#007edd 80.66%,#0030dd 80.75%,#0004dd 80.85%,#0000dd 80.94%,#0000dd 81.69%,#0003dd 81.79%,#0024dd 81.88%,#006bdd 81.97%,#007cdd 82.07%,#0059dd 82.16%,#0000d5 82.26%,#0000c0 82.35%,#0000bc 82.54%,#0700a9 82.63%,#81009a 82.73%,#820093 82.82%,#810092 83.48%,#780089 83.95%,#590065 84.04%,#480052 84.14%,#460050 84.23%,#45004f 84.98%,#53005f 85.08%,#730083 85.17%,#780089 85.26%,#730083 85.36%,#52005e 85.45%,#44004d 85.55%,#42004b 85.64%,#36003d 89.77%,#37003f 89.87%,#490053 89.96%,#6f007f 90.06%,#780089 90.15%,#780089 90.43%,#6f007e 90.53%,#460050 90.62%,#33003b 90.71%,#310038 90.81%,#080009 98.05%,#050006 99.92%)"></div>
<div style="left:4px;top:155px;width:266px;height:16px;background:linear-gradient(90deg,#0a000b 0.02%,#0b000c 19.29%,#0d000f 19.57%,#150018 19.76%,#770088 20.79%,#880099 22.48%,#72009c 22.58%,#1100a8 22.76%,#0000b2 22.86%,#0000d2 23.14%,#0001dd 23.42%,#0012dd 23.61%,#0021dd 23.7%,#006edd 23.98%,#0078dd 24.08%,#0098dd 25.58%,#009ecd 26.15%,#00aaaa 27.74%,#00aa98 28.97%,#00aa8e 36.39%,#00aa88 37.52%,#00a457 39.68%,#009d1c 41%,#009900 41.75%,#00b600 44.94%,#00c100 48.52%,#00b800 52.84%,#009a00 56.13%,#009a0a 56.32%,#00a24b 57.07%,#00aa85 57.54%,#00aa8a 57.63%,#00aa99 58.1%,#00aaab 59.04%,#0099dd 60.92%,#0076dd 62.8%,#001cdd 64.59%,#0000dd 65.62%,#0000d2 66.56%,#0000aa 68.82%,#880099 72.58%,#850096 74.27%,#1800a7 74.36%,#0079dd 74.45%,#009bd8 74.55%,#009cd3 74.64%,#009cd3 74.83%,#009bd8 74.92%,#007add 75.02%,#0000ac 75.11%,#4800a1 75.21%,#3900a3 75.3%,#3600a3 75.68%,#2d00a4 75.77%,#0000bc 75.86%,#0065dd 75.96%,#0089dd 76.05%,#008bdd 76.15%,#008add 76.62%,#007fdd 76.71%,#0042dd 76.8%,#001fdd 76.9%,#0042dd 76.99%,#007fdd 77.09%,#008add 77.18%,#008add 77.74%,#007fdd 77.84%,#0042dd 77.93%,#001cdd 78.03%,#001cdd 78.12%,#0042dd 78.21%,#007fdd 78.31%,#008add 78.4%,#008add 78.78%,#007fdd 78.87%,#0039dd 78.97%,#0010dd 79.06%,#000cdd 79.15%,#000cdd 79.44%,#0010dd 79.53%,#0039dd 79.62%,#007fdd 79.72%,#008add 79.81%,#008add 80.56%,#007edd 80.66%,#0030dd 80.75%,#0004dd 80.85%,#0000dd 80.94%,#0000dd 81.69%,#0003dd 81.79%,#0024dd 81.88%,#006bdd 81.97%,#007cdd 82.07%,#0059dd 82.16%,#0000d5 82.26%,#0000c0 82.35%,#0000bc 82.54%,#0700a9 82.63%,#81009a 82.73%,#820093 82.82%,#810092 83.48%,#780089 83.95%,#590065 84.04%,#480052 84.14%,#460050 84.23%,#45004f 84.98%,#53005f 85.08%,#730083 85.17%,#780089 85.26%,#730083 85.36%,#52005e 85.45%,#44004d 85.55%,#42004b 85.64%,#36003d 89.77%,#37003f 89.87%,#490053 89.96%,#6f007f 90.06%,#780089 90.15%,#780089 90.43%,#6f007e 90.53%,#460050 90.62%,#33003b 90.71%,#310038 90.81%,#080009 98.05%,#050006 99.92%)"></div>
<div style="left:4px;top:171px;width:266px;height:17px;background:linear-gradient(90deg,#0a000b 0.02%,#0b000c 19.29%,#0d000f 19.57%,#150018 19.76%,#770088 20.79%,#880099 22.48%,#72009c 22.58%,#1100a8 22.76%,#0000b2 22.86%,#0000d2 23.14%,#0001dd 23.42%,#0012dd 23.61%,#0021dd 23.7%,#006edd 23.98%,#0078dd 24.08%,#0098dd 25.58%,#009ecd 26.15%,#00aaaa 27.74%,#00aa98 28.97%,#00aa8e 36.39%,#00aa88 37.52%,#00a457 39.68%,#009d1c 41%,#009900 41.75%,#00b600 44.94%,#00c100 48.52%,#00b800 52.84%,#009a00 56.13%,#009a0a 56.32%,#00a24b 57.07%,#00aa85 57.54%,#00aa8a 57.63%,#00aa99 58.1%,#00aaab 59.04%,#0099dd 60.92%,#0076dd 62.8%,#001cdd 64.59%,#0000dd 65.62%,#0000d2 66.56%,#0000aa 68.82%,#880099 72.58%,#850096 74.27%,#1800a7 74.36%,#0079dd 74.45%,#009bd8 74.55%,#009cd3 74.64%,#009cd3 74.83%,#009bd8 74.92%,#007add 75.02%,#0000ac 75.11%,#4800a1 75.21%,#3900a3 75.3%,#3600a3 75.68%,#2d00a4 75.77%,#0000bc 75.86%,#0065dd 75.96%,#0089dd 76.05%,#008bdd 76.15%,#008add 76.62%,#007fdd 76.71%,#0042dd 76.8%,#001fdd 76.9%,#0042dd 76.99%,#007fdd 77.09%,#008add 77.18%,#008add 77.74%,#007fdd 77.84%,#0042dd 77.93%,#001cdd 78.03%,#001cdd 78.12%,#0042dd 78.21%,#007fdd 78.31%,#008add 78.4%,#008add 78.78%,#007fdd 78.87%,#0039dd 78.97%,#0010dd 79.06%,#000cdd 79.15%,#000cdd 79.44%,#0010dd 79.53%,#0039dd 79.62%,#007fdd 79.72%,#008add 79.81%,#008add 80.56%,#007edd 80.66%,#0030dd 80.75%,#0004dd 80.85%,#0000dd 80.94%,#0000dd 81.69%,#0003dd 81.79%,#0024dd 81.88%,#006bdd 81.97%,#007cdd 82.07%,#0059dd 82.16%,#0000d5 82.26%,#0000c0 82.35%,#0000bc 82.54%,#0700a9 82.63%,#81009a 82.73%,#820093 82.82%,#810092 83.48%,#780089 83.95%,#590065 84.04%,#480052 84.14%,#460050 84.23%,#45004f 84.98%,#53005f 85.08%,#730083 85.17%,#780089 85.26%,#730083 85.36%,#52005e 85.45%,#44004d 85.55%,#42004b 85.64%,#36003d 89.77%,#37003f 89.87%,#490053 89.96%,#6f007f 90.06%,#780089 90.15%,#780089 90.43%,#6f007e 90.53%,#460050 90.62%,#33003b 90.71%,#310038 90.81%,#080009 98.05%,#050006 99.92%)"></div>
<div style="left:4px;top:188px;width:266px;height:17px;background:linear-gradient(90deg,#0a000b 0.02%,#0b000c 19.29%,#0d000f 19.57%,#150018 19.76%,#770088 20.79%,#880099 22.48%,#72009c 22.58%,#1100a8 22.76%,#0000b2 22.86%,#0000d2 23.14%,#0001dd 23.42%,#0012dd 23.61%,#0021dd 23.7%,#006edd 23.98%,#0078dd 24.08%,#0098dd 25.58%,#009ecd 26.15%,#00aaaa 27.74%,#00aa98 28.97%,#00aa8e 36.39%,#00aa88 37.52%,#00a457 39.68%,#009d1c 41%,#009900 41.75%,#00b600 44.94%,#00c100 48.52%,#00b800 52.84%,#009a00 56.13%,#009a0a 56.32%,#00a24b 57.07%,#00aa85 57.54%,#00aa8a 57.63%,#00aa99 58.1%,#00aaab 59.04%,#0099dd 60.92%,#0076dd 62.8%,#001cdd 64.59%,#0000dd 65.62%,#0000d2 66.56%,#0000aa 68.82%,#880099 72.58%,#850096 74.27%,#1800a7 74.36%,#0079dd 74.45%,#009bd8 74.55%,#009cd3 74.64%,#009cd3 74.83%,#009bd8 74.92%,#007add 75.02%,#0000ac 75.11%,#4800a1 75.21%,#3900a3 75.3%,#3600a3 75.68%,#2d00a4 75.77%,#0000bc 75.86%,#0065dd 75.96%,#0089dd 76.05%,#008bdd 76.15%,#008add 76.62%,#007fdd 76.71%,#0042dd 76.8%,#001fdd 76.9%,#0042dd 76.99%,#007fdd 77.09%,#008add 77.18%,#008add 77.74%,#007fdd 77.84%,#0042dd 77.93%,#001cdd 78.03%,#001cdd 78.12%,#0042dd 78.21%,#007fdd 78.31%,#008add 78.4%,#008add 78.78%,#007fdd 78.87%,#0039dd 78.97%,#0010dd 79.06%,#000cdd 79.15%,#000cdd 79.44%,#0010dd 79.53%,#0039dd 79.62%,#007fdd 79.72%,#008add 79.81%,#008add 80.56%,#007edd 80.66%,#0030dd 80.75%,#0004dd 80.85%,#0000dd 80.94%,#0000dd 81.69%,#0003dd 81.79%,#0024dd 81.88%,#006bdd 81.97%,#007cdd 82.07%,#0059dd 82.16%,#0000d5 82.26%,#0000c0 82.35%,#0000bc 82.54%,#0700a9 82.63%,#81009a 82.73%,#820093 82.82%,#810092 83.48%,#780089 83.95%,#590065 84.04%,#480052 84.14%,#460050 84.23%,#45004f 84.98%,#53005f 85.08%,#730083 85.17%,#780089 85.26%,#730083 85.36%,#52005e 85.45%,#44004d 85.55%,#42004b 85.64%,#36003d 89.77%,#37003f 89.87%,#490053 89.96%,#6f007f 90.06%,#780089 90.15%,#780089 90.43%,#6f007e 90.53%,#460050 90.62%,#33003b 90.71%,#310038 90.81%,#080009 98.05%,#050006 99.92%)"></div>
<div style="left:4px;top:205px;width:266px;height:16px;background:linear-gradient(90deg,#0a000b 0.02%,#0b000c 19.1%,#0d000f 19.38%,#150018 19.57%,#770088 20.6%,#880099 22.29%,#72009c 22.39%,#1100a8 22.58%,#0000b2 22.67%,#0000d2 22.95%,#0000db 23.14%,#0003dd 23.23%,#000cdd 23.33%,#0016dd 23.42%,#0026dd 23.52%,#0077dd 23.8%,#0097dd 25.02%,#00aaa9 26.71%,#00aa89 28.59%,#00a87b 28.97%,#00a34e 36.39%,#009f2c 37.99%,#009b10 39.68%,#009900 40.15%,#00be00 44.94%,#00c600 48.52%,#00bb00 52.84%,#009a00 56.22%,#009904 56.32%,#00a247 57.07%,#00a982 57.54%,#00aa8a 57.63%,#00aa98 58.1%,#00aaaa 59.04%,#0099dd 60.92%,#0076dd 62.8%,#001cdd 64.59%,#0000dd 65.62%,#0000d2 66.56%,#0000aa 68.82%,#880099 72.58%,#850096 74.27%,#1800a7 74.36%,#0079dd 74.45%,#009bd8 74.55%,#009cd3 74.64%,#009cd3 74.83%,#009bd8 74.92%,#007add 75.02%,#0000ac 75.11%,#4800a1 75.21%,#3900a3 75.3%,#3600a3 75.68%,#2d00a4 75.77%,#0000bc 75.86%,#0065dd 75.96%,#0089dd 76.05%,#008bdd 76.15%,#008add 76.62%,#007fdd 76.71%,#0042dd 76.8%,#001fdd 76.9%,#0042dd 76.99%,#007fdd 77.09%,#008add 77.18%,#008add 77.74%,#007fdd 77.84%,#0042dd 77.93%,#001cdd 78.03%,#001cdd 78.12%,#0042dd 78.21%,#007fdd 78.31%,#008add 78.4%,#008add 78.78%,#007fdd 78.87%,#0039dd 78.97%,#0010dd 79.06%,#000cdd 79.15%,#000cdd 79.44%,#0010dd 79.53%,#0039dd 79.62%,#007fdd 79.72%,#008add 79.81%,#008add 80.56%,#007edd 80.66%,#0030dd 80.75%,#0004dd 80.85%,#0000dd 80.94%,#0000dd 81.69%,#0003dd 81.79%,#0024dd 81.88%,#006bdd 81.97%,#007cdd 82.07%,#0059dd 82.16%,#0000d5 82.26%,#0000c0 82.35%,#0000bc 82.54%,#0700a9 82.63%,#81009a 82.73%,#820093 82.82%,#810092 83.48%,#780089 83.95%,#590065 84.04%,#480052 84.14%,#460050 84.23%,#45004f 84.98%,#53005f 85.08%,#730083 85.17%,#780089 85.26%,#730083 85.36%,#52005e 85.45%,#44004d 85.55%,#42004b 85.64%,#36003d 89.77%,#37003f 89.87%,#490053 89.96%,#6f007f 90.06%,#780089 90.15%,#780089 90.43%,#6f007e 90.53%,#460050 90.62%,#33003b 90.71%,#310038 90.81%,#080009 98.05%,#050006 99.92%)"></div>
<div style="left:4px;top:221px;width:266px;height:17px;background:linear-gradient(90deg,#0a000b 0.02%,#0a000b 19.1%,#0d000f 19.47%,#160019 19.66%,#770088 20.7%,#870098 22.29%,#860099 22.39%,#69009d 22.48%,#0700a9 22.67%,#0000b5 22.76%,#0000d3 23.05%,#0000db 23.23%,#000ddd 23.42%,#0018dd 23.52%,#002add 23.61%,#0061dd 23.8%,#0077dd 23.89%,#0098dd 25.21%,#00a2c1 26.05%,#00aaa9 26.99%,#00aa8b 28.87%,#00aa88 30.56%,#00a667 36.48%,#00a247 37.99%,#009e2a 39.68%,#009a00 40.81%,#00ba00 44.94%,#00c200 48.52%,#00b800 52.84%,#009a00 56.13%,#009a0a 56.32%,#00a24b 57.07%,#00aa85 57.54%,#00aa8a 57.63%,#00aa99 58.1%,#00aaab 59.04%,#0099dd 60.92%,#0076dd 62.8%,#001cdd 64.59%,#0000dd 65.62%,#0000d2 66.56%,#0000aa 68.82%,#880099 72.58%,#850096 74.27%,#1800a7 74.36%,#0079dd 74.45%,#009bd8 74.55%,#009cd3 74.64%,#009cd3 74.83%,#009bd8 74.92%,#007add 75.02%,#0000ac 75.11%,#4800a1 75.21%,#3900a3 75.3%,#3600a3 75.68%,#2d00a4 75.77%,#0000bc 75.86%,#0065dd 75.96%,#0089dd 76.05%,#008bdd 76.15%,#008add 76.62%,#007fdd 76.71%,#0042dd 76.8%,#001fdd 76.9%,#0042dd 76.99%,#007fdd 77.09%,#008add 77.18%,#008add 77.74%,#007fdd 77.84%,#0042dd 77.93%,#001cdd 78.03%,#001cdd 78.12%,#0042dd 78.21%,#007fdd 78.31%,#008add 78.4%,#008add 78.78%,#007fdd 78.87%,#0039dd 78.97%,#0010dd 79.06%,#000cdd 79.15%,#000cdd 79.44%,#0010dd 79.53%,#0039dd 79.62%,#007fdd 79.72%,#008add 79.81%,#008add 80.56%,#007edd 80.66%,#0030dd 80.75%,#0004dd 80.85%,#0000dd 80.94%,#0000dd 81.69%,#0003dd 81.79%,#0024dd 81.88%,#006bdd 81.97%,#007cdd 82.07%,#0059dd 82.16%,#0000d5 82.26%,#0000c0 82.35%,#0000bc 82.54%,#0700a9 82.63%,#81009a 82.73%,#820093 82.82%,#810092 83.48%,#780089 83.95%,#590065 84.04%,#480052 84.14%,#460050 84.23%,#45004f 84.98%,#53005f 85.08%,#730083 85.17%,#780089 85.26%,#730083 85.36%,#52005e 85.45%,#44004d 85.55%,#42004b 85.64%,#36003d 89.77%,#37003f 89.87%,#490053 89.96%,#6f007f 90.06%,#780089 90.15%,#780089 90.43%,#6f007e 90.53%,#460050 90.62%,#33003b 90.71%,#310038 90.81%,#080009 98.05%,#050006 99.92%)"></div>
<div style="left:4px;top:238px;width:266px;height:17px;background:linear-gradient(90deg,#0a000b 0.02%,#0b000c 19.29%,#0d000f 19.57%,#150018 19.76%,#770088 20.79%,#880099 22.48%,#72009c 22.58%,#1100a8 22.76%,#0000b2 22.86%,#0000d2 23.14%,#0001dd 23.42%,#0012dd 23.61%,#0021dd 23.7%,#006edd 23.98%,#0078dd 24.08%,#0098dd 25.58%,#009ecd 26.15%,#00aaaa 27.74%,#00aa98 28.97%,#00aa8e 36.39%,#00aa88 37.52%,#00a457 39.68%,#009d1c 41%,#009900 41.75%,#00b600 44.94%,#00c100 48.52%,#00b800 52.84%,#009a00 56.13%,#009a0a 56.32%,#00a24b 57.07%,#00aa85 57.54%,#00aa8a 57.63%,#00aa99 58.1%,#00aaab 59.04%,#0099dd 60.92%,#0076dd 62.8%,#001cdd 64.59%,#0000dd 65.62%,#0000d2 66.56%,#0000aa 68.82%,#880099 72.58%,#850096 74.27%,#1800a7 74.36%,#0079dd 74.45%,#009bd8 74.55%,#009cd3 74.64%,#009cd3 74.83%,#009bd8 74.92%,#007add 75.02%,#0000ac 75.11%,#4800a1 75.21%,#3900a3 75.3%,#3600a3 75.68%,#2d00a4 75.77%,#0000bc 75.86%,#0065dd 75.96%,#0089dd 76.05%,#008bdd 76.15%,#008add 76.62%,#007fdd 76.71%,#0042dd 76.8%,#001fdd 76.9%,#0042dd 76.99%,#007fdd 77.09%,#008add 77.18%,#008add 77.74%,#007fdd 77.84%,#0042dd 77.93%,#001cdd 78.03%,#001cdd 78.12%,#0042dd 78.21%,#007fdd 78.31%,#008add 78.4%,#008add 78.78%,#007fdd 78.87%,#0039dd 78.97%,#0010dd 79.06%,#000cdd 79.15%,#000cdd 79.44%,#0010dd 79.53%,#0039dd 79.62%,#007fdd 79.72%,#008add 79.81%,#008add 80.56%,#007edd 80.66%,#0030dd 80.75%,#0004dd 80.85%,#0000dd 80.94%,#0000dd 81.69%,#0003dd 81.79%,#0024dd 81.88%,#006bdd 81.97%,#007cdd 82.07%,#0059dd 82.16%,#0000d5 82.26%,#0000c0 82.35%,#0000bc 82.54%,#0700a9 82.63%,#81009a 82.73%,#820093 82.82%,#810092 83.48%,#780089 83.95%,#590065 84.04%,#480052 84.14%,#460050 84.23%,#45004f 84.98%,#53005f 85.08%,#730083 85.17%,#780089 85.26%,#730083 85.36%,#52005e 85.45%,#44004d 85.55%,#42004b 85.64%,#36003d 89.77%,#37003f 89.87%,#490053 89.96%,#6f007f 90.06%,#780089 90.15%,#780089 90.43%,#6f007e 90.53%,#460050 90.62%,#33003b 90.71%,#310038 90.81%,#080009 98.05%,#050006 99.92%)"></div>
<div style="left:4px;top:255px;width:266px;height:17px;background:linear-gradient(90deg,#0a000b 0.02%,#0a000b 18.91%,#0d000f 19.29%,#160019 19.47%,#770088 20.51%,#870098 22.11%,#860099 22.2%,#69009d 22.29%,#0700a9 22.48%,#0000b5 22.58%,#0000d3 22.86%,#0000db 23.05%,#000edd 23.23%,#0019dd 23.33%,#002bdd 23.42%,#0064dd 23.61%,#0078dd 23.7%,#0097dd 24.83%,#0099dd 24.92%,#00a5ba 25.86%,#00aaaa 26.43%,#00aa89 28.21%,#00a666 28.87%,#009f31 36.39%,#009b0d 37.99%,#009900 38.74%,#009e00 39.77%,#00b800 42.69%,#00c700 44.94%,#00ce00 48.52%,#00c300 52.93%,#00a800 56.13%,#009900 56.88%,#009c1b 57.16%,#00a984 57.91%,#00aa8a 58.01%,#00aaaa 59.61%,#0098dd 61.39%,#0075dd 63.27%,#002cdd 64.68%,#0000dc 66.37%,#0000ab 69.19%,#7d009a 72.48%,#880099 72.86%,#850096 74.27%,#1400a7 74.36%,#007add 74.45%,#009bd8 74.55%,#009cd3 74.64%,#009cd3 74.83%,#009bd8 74.92%,#007add 75.02%,#0000ad 75.11%,#4700a1 75.21%,#3900a3 75.3%,#3600a3 75.68%,#2d00a4 75.77%,#0000bc 75.86%,#0065dd 75.96%,#0089dd 76.05%,#008bdd 76.15%,#008add 76.62%,#007fdd 76.71%,#0042dd 76.8%,#001fdd 76.9%,#0042dd 76.99%,#007fdd 77.09%,#008add 77.18%,#008add 77.74%,#007fdd 77.84%,#0042dd 77.93%,#001cdd 78.03%,#001cdd 78.12%,#0042dd 78.21%,#007fdd 78.31%,#008add 78.4%,#008add 78.78%,#007fdd 78.87%,#0039dd 78.97%,#0010dd 79.06%,#000cdd 79.15%,#000cdd 79.44%,#0010dd 79.53%,#0039dd 79.62%,#007fdd 79.72%,#008add 79.81%,#008add 80.56%,#007edd 80.66%,#0030dd 80.75%,#0004dd 80.85%,#0000dd 80.94%,#0000dd 81.69%,#0003dd 81.79%,#0024dd 81.88%,#006bdd 81.97%,#007cdd 82.07%,#0059dd 82.16%,#0000d5 82.26%,#0000c0 82.35%,#0000bc 82.54%,#0700a9 82.63%,#81009a 82.73%,#820093 82.82%,#810092 83.48%,#780089 83.95%,#5a0066 84.04%,#490054 84.14%,#470052 84.23%,#460051 84.98%,#540060 85.08%,#730084 85.17%,#780089 85.26%,#730083 85.36%,#53005f 85.45%,#45004f 85.55%,#43004d 85.64%,#37003f 89.77%,#380040 89.87%,#4a0054 89.96%,#700080 90.06%,#780089 90.15%,#780089 90.43%,#6f007f 90.53%,#470051 90.62%,#34003c 90.71%,#320039 90.81%,#080009 98.05%,#050006 99.92%)"></div>
<div style="left:4px;top:272px;width:266px;height:16px;background:linear-gradient(90deg,#0a000b 0.02%,#0b000c 19.29%,#0d000f 19.57%,#150018 19.76%,#770088 20.79%,#880099 22.48%,#72009c 22.58%,#1100a8 22.76%,#0000b2 22.86%,#0000d2 23.14%,#0001dd 23.42%,#0012dd 23.61%,#0021dd 23.7%,#006edd 23.98%,#0078dd 24.08%,#0098dd 25.58%,#009ecd 26.15%,#00aaaa 27.74%,#00aa98 28.97%,#00aa8e 36.39%,#00aa88 37.52%,#00a457 39.68%,#009d1c 41%,#009900 41.75%,#00b600 44.94%,#00c100 48.52%,#00b800 52.84%,#009a00 56.13%,#009a0a 56.32%,#00a24b 57.07%,#00aa85 57.54%,#00aa8a 57.63%,#00aa99 58.1%,#00aaab 59.04%,#0099dd 60.92%,#0076dd 62.8%,#001cdd 64.59%,#0000dd 65.62%,#0000d2 66.56%,#0000aa 68.82%,#880099 72.58%,#850096 74.27%,#1800a7 74.36%,#0079dd 74.45%,#009bd8 74.55%,#009cd3 74.64%,#009cd3 74.83%,#009bd8 74.92%,#007add 75.02%,#0000ac 75.11%,#4800a1 75.21%,#3900a3 75.3%,#3600a3 75.68%,#2d00a4 75.77%,#0000bc 75.86%,#0065dd 75.96%,#0089dd 76.05%,#008bdd 76.15%,#008add 76.62%,#007fdd 76.71%,#0042dd 76.8%,#001fdd 76.9%,#0042dd 76.99%,#007fdd 77.09%,#008add 77.18%,#008add 77.74%,#007fdd 77.84%,#0042dd 77.93%,#001cdd 78.03%,#001cdd 78.12%,#0042dd 78.21%,#007fdd 78.31%,#008add 78.4%,#008add 78.78%,#007fdd 78.87%,#0039dd 78.97%,#0010dd 79.06%,#000cdd 79.15%,#000cdd 79.44%,#0010dd 79.53%,#0039dd 79.62%,#007fdd 79.72%,#008add 79.81%,#008add 80.56%,#007edd 80.66%,#0030dd 80.75%,#0004dd 80.85%,#0000dd 80.94%,#0000dd 81.69%,#0003dd 81.79%,#0024dd 81.88%,#006bdd 81.97%,#007cdd 82.07%,#0059dd 82.16%,#0000d5 82.26%,#0000c0 82.35%,#0000bc 82.54%,#0700a9 82.63%,#81009a 82.73%,#820093 82.82%,#810092 83.48%,#780089 83.95%,#590065 84.04%,#480052 84.14%,#460050 84.23%,#45004f 84.98%,#53005f 85.08%,#730083 85.17%,#780089 85.26%,#730083 85.36%,#52005e 85.45%,#44004d 85.55%,#42004b 85.64%,#36003d 89.77%,#37003f 89.87%,#490053 89.96%,#6f007f 90.06%,#780089 90.15%,#780089 90.43%,#6f007e 90.53%,#460050 90.62%,#33003b 90.71%,#310038 90.81%,#080009 98.05%,#050006 99.92%)"></div>
<div style="left:4px;top:288px;width:266px;height:17px;background:linear-gradient(90deg,#0a000b 0.02%,#0b000c 19.29%,#0d000f 19.57%,#150018 19.76%,#770088 20.79%,#880099 22.48%,#72009c 22.58%,#1100a8 22.76%,#0000b2 22.86%,#0000d2 23.14%,#0001dd 23.42%,#0012dd 23.61%,#0021dd 23.7%,#006edd 23.98%,#0078dd 24.08%,#0098dd 25.58%,#009ecd 26.15%,#00aaaa 27.74%,#00aa98 28.97%,#00aa8f 36.39%,#00aa88 37.99%,#00a562 39.77%,#00a455 39.87%,#009e00 39.96%,#00d600 40.06%,#00ef00 40.15%,#00f100 40.24%,#00ef00 40.34%,#00d700 40.43%,#00a300 40.53%,#00a035 40.62%,#00a03a 40.71%,#009900 42.31%,#009a00 42.41%,#00af00 44.94%,#00ba00 48.52%,#00b100 52.84%,#009900 55.66%,#009a0c 56.13%,#009c17 56.32%,#00a454 57.07%,#00aa89 57.54%,#00aa9a 58.1%,#00aaaa 58.95%,#0098dd 60.92%,#0076dd 62.8%,#001cdd 64.59%,#0000dd 65.62%,#0000d2 66.56%,#0000aa 68.82%,#880099 72.58%,#850096 74.27%,#1800a7 74.36%,#0079dd 74.45%,#009bd8 74.55%,#009cd3 74.74%,#009bd8 74.92%,#007add 75.02%,#0000ac 75.11%,#4800a1 75.21%,#3900a3 75.3%,#3600a3 75.68%,#2d00a4 75.77%,#0000bc 75.86%,#0065dd 75.96%,#0089dd 76.05%,#008bdd 76.24%,#008add 76.62%,#007fdd 76.71%,#0042dd 76.8%,#001fdd 76.9%,#0042dd 76.99%,#007fdd 77.09%,#008add 77.18%,#008add 77.74%,#007fdd 77.84%,#0042dd 77.93%,#001cdd 78.03%,#001cdd 78.12%,#0042dd 78.21%,#007fdd 78.31%,#008add 78.4%,#008add 78.78%,#007fdd 78.87%,#0039dd 78.97%,#0010dd 79.06%,#000cdd 79.25%,#000cdd 79.44%,#0010dd 79.53%,#0039dd 79.62%,#007fdd 79.72%,#008add 79.81%,#008add 80.56%,#007edd 80.66%,#0030dd 80.75%,#0004dd 80.85%,#0000dd 80.94%,#0000dd 81.69%,#0003dd 81.79%,#0024dd 81.88%,#006bdd 81.97%,#007cdd 82.07%,#0059dd 82.16%,#0000d5 82.26%,#0000c0 82.35%,#0000bc 82.54%,#0700a9 82.63%,#81009a 82.73%,#820093 82.82%,#810092 83.48%,#780089 83.95%,#590065 84.04%,#480052 84.14%,#460050 84.23%,#45004f 84.98%,#53005f 85.08%,#730083 85.17%,#780089 85.26%,#730083 85.36%,#52005e 85.45%,#44004d 85.55%,#42004b 85.64%,#36003d 89.77%,#37003f 89.87%,#490053 89.96%,#6f007f 90.06%,#780089 90.15%,#780089 90.43%,#6f007e 90.53%,#460050 90.62%,#33003b 90.71%,#310038 90.81%,#080009 98.05%,#050006 99.92%)"></div>
<div style="left:4px;top:305px;width:266px;height:17px;background:linear-gradient(90deg,#0a000b 0.02%,#0b000c 19.1%,#0d000f 19.38%,#150018 19.57%,#770088 20.6%,#880099 22.29%,#72009c 22.39%,#1100a8 22.58%,#0000b2 22.67%,#0000d2 22.95%,#0000db 23.14%,#0003dd 23.23%,#000cdd 23.33%,#0016dd 23.42%,#0026dd 23.52%,#0077dd 23.8%,#0097dd 25.02%,#00aaa9 26.71%,#00aa88 28.68%,#00a97d 28.97%,#00a456 36.39%,#00a035 37.99%,#009d1f 39.68%,#009a00 40.62%,#00b800 44.94%,#00bf00 48.52%,#00b500 52.93%,#009a00 56.32%,#009904 56.41%,#00a039 57.07%,#00aa89 57.73%,#00aa95 58.1%,#00aaaa 59.23%,#0099dd 61.11%,#0077dd 62.99%,#0022dd 64.68%,#0000dd 66%,#0000d6 66.56%,#0000aa 69%,#81009a 72.48%,#880099 72.76%,#850096 74.27%,#1600a7 74.36%,#007add 74.45%,#009bd8 74.55%,#009cd3 74.64%,#009cd3 74.83%,#009bd8 74.92%,#007add 75.02%,#0000ad 75.11%,#4700a1 75.21%,#3900a3 75.3%,#3600a3 75.68%,#2d00a4 75.77%,#0000bc 75.86%,#0065dd 75.96%,#0089dd 76.05%,#008bdd 76.15%,#008add 76.62%,#007fdd 76.71%,#0042dd 76.8%,#001fdd 76.9%,#0042dd 76.99%,#007fdd 77.09%,#008add 77.18%,#008add 77.74%,#007fdd 77.84%,#0042dd 77.93%,#001cdd 78.03%,#001cdd 78.12%,#0042dd 78.21%,#007fdd 78.31%,#008add 78.4%,#008add 78.78%,#007fdd 78.87%,#0039dd 78.97%,#0010dd 79.06%,#000cdd 79.15%,#000cdd 79.44%,#0010dd 79.53%,#0039dd 79.62%,#007fdd 79.72%,#008add 79.81%,#008add 80.56%,#007edd 80.66%,#0030dd 80.75%,#0004dd 80.85%,#0000dd 80.94%,#0000dd 81.69%,#0003dd 81.79%,#0024dd 81.88%,#006bdd 81.97%,#007cdd 82.07%,#0059dd 82.16%,#0000d5 82.26%,#0000c0 82.35%,#0000bc 82.54%,#0700a9 82.63%,#81009a 82.73%,#820093 82.82%,#810092 83.48%,#780089 83.95%,#590066 84.04%,#480053 84.14%,#470051 84.23%,#460050 84.98%,#540060 85.08%,#730084 85.17%,#780089 85.26%,#730083 85.36%,#53005f 85.45%,#44004e 85.55%,#42004c 85.64%,#36003e 89.77%,#380040 89.87%,#490054 89.96%,#70007f 90.06%,#780089 90.15%,#780089 90.43%,#6f007f 90.53%,#470051 90.62%,#34003b 90.71%,#320039 90.81%,#080009 98.05%,#050006 99.92%)"></div>
<div style="left:4px;top:322px;width:266px;height:17px;background:linear-gradient(90deg,#0b000c 0.02%,#0b000c 19.29%,#1d0021 20.23%,#2f0036 24.74%,#470052 28.59%,#590065 32.73%,#5f006d 32.82%,#6e007e 32.91%,#770088 33.01%,#780089 33.1%,#750085 33.29%,#660075 33.38%,#60006e 33.48%,#5f006d 33.57%,#640072 37.99%,#640072 48.33%,#560062 49.83%,#5d006a 49.92%,#6d007c 50.02%,#740084 50.11%,#750085 50.3%,#740084 50.39%,#6c007b 50.49%,#5a0067 50.58%,#51005d 50.68%,#4a0055 52.27%,#3b0043 52.56%,#3b0043 52.74%,#470051 53.03%,#43004d 55.19%,#36003e 55.47%,#390041 55.66%,#42004c 55.85%,#400049 57.26%,#400049 57.35%,#3a0042 57.44%,#2e0035 57.54%,#29002f 57.63%,#2e0035 57.73%,#390042 57.82%,#3f0048 57.91%,#3d0046 59.04%,#3d0045 59.14%,#37003f 59.23%,#2c0032 59.32%,#26002c 59.42%,#26002b 59.51%,#26002c 59.7%,#3b0044 59.98%,#390041 62.14%,#3e0047 62.24%,#4a0054 62.33%,#4f005a 62.42%,#4f005b 62.61%,#4f005a 62.71%,#490054 62.8%,#3d0046 62.89%,#37003f 62.99%,#34003c 64.3%,#2b0031 64.49%,#27002d 64.68%,#28002d 64.87%,#34003b 65.15%,#33003b 66.84%,#2e0035 66.94%,#240029 67.03%,#1f0023 67.22%,#1f0024 67.5%,#33003a 67.78%,#33003a 69.85%,#27002c 70.13%,#32003a 70.41%,#33003a 71.35%,#3f0048 71.64%,#3f0048 71.82%,#3c0044 72.01%,#33003a 72.2%,#310039 74.17%,#28002e 74.36%,#25002b 74.55%,#26002b 74.74%,#310038 75.02%,#310037 77.09%,#2c0032 77.18%,#220027 77.27%,#1d0022 77.46%,#1e0022 77.65%,#220027 77.74%,#2c0032 77.84%,#310038 78.03%,#300037 79.44%,#2b0032 79.53%,#220027 79.62%,#1d0021 79.81%,#1d0022 80%,#300037 80.28%,#300036 81.41%,#27002c 81.6%,#240029 81.79%,#240029 81.97%,#2f0036 82.26%,#1d0021 83.1%,#1c0020 83.48%,#140017 83.67%,#110013 83.85%,#110014 84.04%,#1b001f 84.32%,#1b001f 84.98%,#230028 85.17%,#26002b 85.36%,#230028 85.55%,#1b001f 85.73%,#19001c 87.8%,#0f0011 88.08%,#110014 88.27%,#18001c 88.46%,#18001b 89.12%,#110013 89.3%,#0e0011 89.49%,#17001b 89.87%,#160019 92.03%,#1f0023 92.31%,#1f0023 92.5%,#150018 92.97%,#140017 95.13%,#0f0011 95.51%,#130015 96.35%,#100012 97.58%,#09000b 97.86%,#09000b 98.23%,#0d000f 98.52%,#0a000b 99.92%)"></div>
<div style="left:4px;top:339px;width:266px;height:16px;background:linear-gradient(90deg,#020003 0.02%,#020003 21.26%,#0e0010 22.29%,#130016 52.93%,#0a000b 64.3%,#050005 99.92%)"></div>
<div style="left:4px;top:355px;width:266px;height:21px;background:linear-gradient(90deg,#140017 0.02%,#140017 19.19%,#160019 19.29%,#1c0020 19.38%,#2b0031 19.47%,#780089 19.85%,#870098 20.23%,#65009d 20.32%,#1300a8 20.51%,#0000b2 20.6%,#0000d1 20.79%,#0007dd 20.88%,#0072dd 21.17%,#007fdd 21.26%,#0097dd 21.54%,#009cd4 21.64%,#00a0c7 21.73%,#00aaa5 21.92%,#00aa84 22.11%,#00a350 22.2%,#009902 22.39%,#00e400 23.23%,#00fe00 23.7%,#11ff00 23.8%,#96ff00 24.36%,#bbff00 24.55%,#ccf900 24.92%,#eeee00 25.96%,#f8da00 27.09%,#ffcc00 29.53%,#fad600 31.6%,#f1e700 33.57%,#eeee00 37.99%,#e4f100 43.53%,#d1f800 49.27%,#c7fb00 50.39%,#bbff00 51.15%,#b7ff00 51.24%,#9fff00 51.62%,#19ff00 53.31%,#01ff00 53.78%,#00e200 58.76%,#00c800 60.92%,#009a00 62.89%,#009a06 62.99%,#00a353 63.74%,#00aa88 64.4%,#00aa9c 65.43%,#00aaaa 66.94%,#00a3bf 68.44%,#0099dd 70.13%,#0077dd 72.48%,#005ddd 72.95%,#0007dd 73.98%,#0001dd 74.08%,#0000dc 74.17%,#0000dd 74.27%,#002bdd 74.36%,#007ddd 74.45%,#008add 74.55%,#008bdd 74.74%,#008add 75.02%,#007cdd 75.11%,#0019dd 75.21%,#0000d2 75.3%,#0000cc 75.86%,#000ddd 75.96%,#007add 76.05%,#008add 76.15%,#008bdd 76.33%,#008add 76.62%,#007add 76.71%,#000add 76.8%,#0000c9 76.9%,#0000c8 77.65%,#0007dd 77.74%,#007add 77.84%,#008add 77.93%,#008bdd 78.12%,#008add 78.31%,#007add 78.4%,#0005dd 78.5%,#0000c7 78.59%,#0000c3 79.44%,#0000c5 79.53%,#0002dd 79.62%,#0079dd 79.72%,#008add 79.81%,#008bdd 80%,#008add 80.19%,#0079dd 80.28%,#0000dd 80.38%,#0000c4 80.47%,#0000c2 80.56%,#0000be 82.54%,#0000ab 83.1%,#1000a8 83.29%,#5f009e 84.04%,#880099 84.89%,#820093 94.76%,#770088 96.07%,#380040 97.2%,#310038 97.39%,#130016 98.52%,#0a000b 99.92%)"></div>
</div></div>
<svg width="640" height="440" viewBox="0 0 640 440">
<defs><clipPath id="cl"><rect x="48" y="28" width="267" height="368"/></clipPath><clipPath id="cr"><rect x="329" y="28" width="266" height="368"/></clipPath></defs>
<rect x="47.5" y="27" width="2.2" height="370" fill="#fff"/><rect x="48.2" y="28" width="1.5" height="6.5" fill="#e8000c"/><rect x="48.2" y="283" width="1.5" height="113" fill="#e8000c"/><rect x="49.4" y="283" width="0.5" height="113" fill="#5a00a0"/>
<rect x="328" y="27" width="3" height="256" fill="#fff"/><rect x="328" y="283" width="0.9" height="114" fill="#fff"/><rect x="328.9" y="283" width="1.3" height="113" fill="#8a00a0"/>
<g clip-path="url(#cl)" fill="none" stroke="#fff" stroke-width="2.1" stroke-linejoin="round"><path d="M48 283L102 283L102.8 282.4L104.2 277.4L105 273.3L111 228.5L112.5 220.9L115.5 208.5L117.8 195.9L120 188.8L122.2 184.8L126 176.9L126.8 176L129.8 174.9L130.5 174L134.2 171.4L137.2 175L138 175.2L141 172.2L143.2 173.3L145.5 172.6L146.2 172.2L148.5 169.2L149.2 168.9L150.8 169.7L153 170.3L153.8 169.8L155.2 167.9L156 167.6L157.5 167.3L159 167.7L159.8 167.5L162.8 164L168 162.5L170.2 160.1L172.5 158.9L177.8 157.7L180 158.1L185.2 160L186 160.6L190.5 166.3L193.5 171.8L195.8 177.2L197.2 179.3L199.5 183.5L203.2 195L209.2 207.8L211.5 213.5L217.5 222.5L221.2 230.9L224.2 233.3L227.2 239.8L228.8 242.1L237.8 253.4L240.8 256.2L243.8 260.2L246 261.8L247.7 188L249.1 223.1L250.5 214.9L251.4 245.2L252.3 212L253.3 253.6L254.3 220.6L255.5 238.8L256.6 196.6L257.8 241.7L259 222.6L260.5 239.6L262 205.3L264 274.3L264.6 268.6L266 271.5L267.5 252.3L269 271.5L270 271.5L272.8 258L274.5 271.5L276.4 264.8L278 276.3L279.5 278.2L286 278.7L288 276.3L290 271.5L292 278.2L300 281.1L315 282"/><path d="M48 283.1L102 283.1L102.8 281.9L104.2 275.1L107.2 252L111 226.8L114.8 211.9L117.8 196.6L120.8 187L121.5 185.4L123 183.6L125.2 179.3L126 178.8L127.5 179.1L129.8 178.8L132.8 176.6L135 177.4L136.5 178.5L137.2 178.5L138 178.1L140.2 175.5L141.8 174.7L142.5 174.5L144 175.8L144.8 175.5L146.2 174L148.5 170.9L149.2 170.5L151.5 171L152.2 170.8L153.8 169.8L155.2 167.6L156 167L158.2 167.3L160.5 167L162.8 164.4L168 162.4L170.2 160.2L173.2 159.8L175.5 159.1L177.8 157.8L178.5 157.7L181.5 159.1L184.5 161.2L186 161L189.8 164.8L191.2 168.2L193.5 170.5L198 180.6L204.8 198.3L208.5 206.2L211.5 214.8L215.2 221.3L216.8 223.2L219.8 229.8L222 233.4L223.5 234.8L228 243.3L231 247.3L233.2 248.7L234.8 250.4L235.5 250.2L236.2 250.5L237.8 253L239.2 254.4L241.5 257.4L246 261.5L247.7 211L248.7 266.2L249.5 266.2L250.5 224.4L251.4 239.4L252.3 214L253.3 240.6L254.3 226.1L255.5 245.9L256.6 215.8L257.8 248.4L259 231.1L260.5 240.6L262 222.8L264 274.3L264.6 269L266 272.3L267.5 252.7L269 272.4L270 272.8L272.8 262.1L274.5 274.4L276.4 266.4L278 276.8L279.5 278.6L286 279L288 278L290 272.5L292 279.1L300 281.4L315 282.1"/><path d="M48 283.1L102 283.1L102.8 282.7L104.2 279.2L105.8 273.3L111 240.2L114.8 223.4L118.5 204L120.8 195.8L123 191.5L126 184.2L126.8 184L128.2 184.6L129 184.5L133.5 177.9L135.8 179.8L136.5 179.9L138 179.1L140.2 175.8L141.8 174.9L142.5 175.2L144 176.7L144.8 176.8L145.5 176.4L148.5 172.7L149.2 172.2L152.2 173.4L153 172.9L154.5 170.7L155.2 170.4L157.5 170L159.8 170.6L160.5 170.3L163.5 167L165 167L166.5 167.4L168.8 165.3L171 162.5L174 162.7L175.5 161.8L177 160.2L177.8 160.2L180.8 161.7L182.2 163L183.8 163.7L186 164.2L187.5 165.4L190.5 168.7L194.2 175.4L197.2 183.2L198.8 186L201 192.4L206.2 204.2L209.2 209.8L211.5 215.4L216.8 222.4L219.8 229.9L222.8 233L228 243.5L229.5 245.1L234.8 252.1L237.8 255.1L242.2 261.2L244.5 262.7L246 263.3L247.7 189.1L248.7 268.2L249.5 268.2L250.5 243.9L251.4 250.9L252.3 214.6L253.3 250L254.3 244.9L255.5 261.7L256.6 209.8L257.8 259.8L259 243L260.5 260L262 229.7L264 274.9L264.6 269.3L266 274L267.5 256.2L269 273.5L270 271.9L272.8 260.1L274.5 273.2L276.4 265.2L278 277.3L279.5 278.8L286 279.8L288 278L290 274.4L292 279L300 281.4L315 282.4"/><path d="M48 283.2L102 283.2L102.8 282.5L104.2 277.7L105.8 269.4L111 233.3L114.8 217.9L117.8 202.4L120.8 193.9L121.5 192.2L123 190.2L125.2 185.1L126 184L129 182.8L130.5 181L133.5 178.9L137.2 179.9L140.2 175.7L141 175.3L143.2 176.2L144.8 176.1L145.5 175.6L147.8 172.3L150 172.4L152.2 173.5L153 173.1L155.2 170.3L156.8 170.8L159.8 170.6L162.8 168.5L164.2 167L167.2 166.2L170.2 162.5L172.5 161.6L175.5 159.8L177 158.6L177.8 158.5L180.8 160.1L182.2 161.6L186 162.7L187.5 163.8L189.8 166.5L191.2 169.5L194.2 174.3L198.8 183.1L203.2 195.8L207 204.3L208.5 207L213 217.3L215.2 220.7L219.8 229.9L222 231.9L223.5 234.7L225 236.5L228.8 242.6L231 245.2L237.8 254.6L238.5 255.5L240 255.8L240.8 256.4L242.2 260.1L243.8 261L246 263.6L247.7 188.2L249.1 248.3L250.5 237.6L251.4 254.5L252.3 212.6L253.3 254.8L254.3 239.3L255.5 251.9L256.6 239L257.8 249.1L259 230.7L260.5 246.5L262 230.1L264 274.5L264.6 271.6L266 274.3L267.5 258L269 272.9L270 274.6L272.8 261.4L274.5 273.2L276.4 267.3L278 277.1L279.5 278.7L286 279.4L288 276.6L290 272.6L292 278.9L300 281.5L315 282.3"/><path d="M48 283.3L102 283.3L102.8 282.8L104.2 279.1L105 275.8L111 234.4L114.8 218.7L117.8 203.6L120.8 193.9L125.2 183.6L126 182.4L129 180.8L129.8 180L130.5 178.4L132.8 175.8L134.2 174.7L135 174.9L137.2 177.1L138 176.9L141 174.4L141.8 174.8L143.2 176.4L144 176.3L144.8 175.5L146.2 174.8L148.5 171.4L149.2 171L151.5 170.9L155.2 168.2L157.5 168L159.8 167.1L162 164.1L165 163.4L168 164.3L170.2 163.2L171.8 163.7L174 163.2L175.5 163.8L177.8 162.1L179.2 163.1L181.5 163.3L183.8 165.1L184.5 165.2L186 163.9L189.8 168.5L198 182.2L208.5 208.4L210 211L212.2 216.3L217.5 225.6L219 229L223.5 235L227.2 242.1L231 247L232.5 248.5L234 251.2L234.8 252L236.2 252.2L240 254.9L242.2 258.4L243.8 259.6L244.5 261L246 262.6L247.7 201.8L248.7 267.5L249.5 267.5L250.5 235.4L251.4 250.8L252.3 231.7L253.3 251L254.3 240.7L255.5 251.8L256.6 235.3L257.8 261.6L259 250.3L260.5 257.9L262 223.4L264 273.1L264.6 271.7L266 274.5L267.5 254.5L269 273.9L270 273L272.8 259.2L274.5 272.3L276.4 265L278 277.6L279.5 279.1L286 279.5L288 277.6L290 272.3L292 278.6L300 281.6L315 282.5"/><path d="M48 283.3L102 283.3L102.8 282.5L104.2 277.9L105.8 270L111 236.4L114.8 222.2L117.8 208.1L120 199.7L126 183.9L126.8 182.8L129 181.3L130.5 178.1L133.5 175.1L134.2 175L135.8 176.2L137.2 176.5L138.8 175.7L139.5 175.7L141 173.5L141.8 173.4L144 176.3L144.8 176.3L147 173.4L148.5 172L149.2 171.8L151.5 172.7L153 172.6L156.8 169.6L159 170.2L159.8 169.6L161.2 167.3L163.5 165.7L165.8 166.2L166.5 165.9L168.8 163.4L170.2 163L171.8 161.2L172.5 160.8L174 161.4L174.8 161.4L176.2 160.9L177.8 159.8L178.5 159.7L182.2 160.7L184.5 162.4L186 162.5L189.8 167.2L193.5 174L195.8 179.9L198 183.5L204.8 203.1L212.2 221.2L214.5 224.8L216.8 227.4L219 232L222.8 236.1L228.8 244.9L233.2 249.8L235.5 253.1L237 254.4L239.2 255.4L242.2 260L243.8 261.1L246 262.1L247.7 208L249.1 242.3L250.5 232.4L251.4 252.4L252.3 214.8L253.3 231L254.3 223L255.5 253.7L256.6 212.9L257.8 261.2L259 247L260.5 254.8L262 241.7L264 273.5L264.6 270.3L266 273.7L267.5 258.8L269 274.7L270 272.3L272.8 262.2L274.5 273.5L276.4 265.8L278 276.7L279.5 279.6L286 279.8L288 277.4L290 273.8L292 279.2L300 281.9L315 282.4"/><path d="M48 283.4L102 283.3L102.8 282.4L104.2 277.6L105 274L111 238.2L114.8 225.9L120 206.5L121.5 203.5L123 202.5L124.5 199.9L126.8 195L127.5 194.6L129 195.3L129.8 194.7L131.2 192.9L132.8 190.1L133.5 189.6L135 189.5L136.5 190L138 189L140.2 184.2L141.8 182.4L142.5 182L144 182.5L144.8 181.9L147.8 176.1L149.2 175.2L152.2 174.9L154.5 171.7L156 170.6L156.8 170.2L158.2 170.3L159.8 169.4L162.8 168.4L165 166.9L166.5 167.1L167.2 166.8L170.2 164.3L173.2 163.6L175.5 164.3L179.2 163.4L180 163.8L181.5 165.8L182.2 166.3L183 166.1L184.5 166.7L185.2 166.5L186 166.6L187.5 169.6L191.2 173.5L193.5 176.5L197.2 184.8L201.8 193.8L204 199.9L211.5 216.7L222 234.9L223.5 236.9L225 237.9L227.2 242.7L234 251.2L237 253.6L241.5 259.4L246 263.3L247.7 202L248.7 267.4L249.5 267.4L250.5 214.9L251.4 250.9L252.3 219L253.3 245.6L254.3 235.9L255.5 245.2L256.6 201.3L257.8 258.3L259 249.2L260.5 251.4L262 215.1L264 273.8L264.6 271.4L266 274.6L267.5 258.9L269 273.2L270 273.4L272.8 262.7L274.5 273.3L276.4 266.9L278 277.7L279.5 279L286 279.6L288 277.1L290 272.5L292 279.5L300 281.8L315 282.6"/><path d="M48 283.5L102 283.5L102.8 283.2L104.2 281.2L105.8 277L111 243L115.5 222.8L118.5 206.9L120 201.3L123.8 191.4L126 186.9L127.5 184.7L129 184.3L130.5 181.9L132.8 179.6L133.5 179.2L135 179.8L137.2 182L138 181.6L139.5 179.2L141.8 179.1L143.2 180.7L144 181.2L144.8 181L147.8 178L152.2 176.4L155.2 173.6L156.8 173.4L158.2 172.1L159.8 171.4L161.2 169.9L162.8 167.7L163.5 167L165.8 166L168 163.6L171.8 162.4L172.5 162.5L174 163.6L174.8 163.8L177 162.7L177.8 162.8L178.5 163.1L180 164.5L180.8 164.7L181.5 164.4L183 165.6L186 166.1L189 169.2L193.5 175.8L195.8 181.2L200.2 188.6L203.2 197.1L210 210.3L211.5 214.4L214.5 218.7L217.5 225.8L219.8 229.8L221.2 231.8L222.8 234.9L224.2 236.9L225.8 239.9L230.2 246.4L231.8 247.5L233.2 249.5L237 252.9L240 256.3L243 259.2L244.5 260.1L246 261.8L247.7 196.9L248.7 267.6L249.5 267.6L250.5 234.3L251.4 254.1L252.3 227.6L253.3 247.8L254.3 235.4L255.5 249.5L256.6 234.9L257.8 257.8L259 235.5L260.5 248.2L262 205.4L264 272.6L264.6 270.5L266 272.7L267.5 256.6L269 274.1L270 274.5L272.8 261.3L274.5 273.4L276.4 269.5L278 277L279.5 279.1L286 280L288 278L290 274.6L292 279.8L300 281.9L315 282.7"/><path d="M48 283.5L102 283.4L102.8 282.7L104.2 279.4L105.8 274.1L111 243.9L116.2 224.2L120 205.9L122.2 201.4L123.8 196.8L126 191.9L126.8 191L128.2 191.1L129 190.5L132.8 185.1L133.5 184.5L134.2 184.3L136.5 185.8L138 186.1L141 181.5L143.2 182.2L144 181.8L146.2 180.3L148.5 176.9L150 176.6L151.5 177.1L152.2 176.9L153 176.4L154.5 174.2L156 173.4L159.8 173.4L161.2 171.7L162.8 170.8L164.2 168.9L167.2 167.5L170.2 165.1L172.5 164.1L174.8 164.3L177.8 162.6L179.2 163.3L181.5 163.1L183 163.7L184.5 165.3L186 166.3L187.5 169L190.5 172.8L192.8 176.2L194.2 179.3L197.2 186.8L200.2 193L204.8 204.8L210 215.9L211.5 219.7L216 225.2L220.5 233.3L222.8 234.8L225 239.4L228 243.2L230.2 247L231.8 248.3L235.5 253.4L237.8 255L243 261.4L244.5 262.1L246 263.8L247.7 190.8L249.1 243.4L250.5 227.9L251.4 251L252.3 216.7L253.3 258.6L254.3 249.8L255.5 260.2L256.6 216.2L257.8 243.1L259 231.7L260.5 250L262 208.3L264 273.3L264.6 272.4L266 273.3L267.5 259.8L269 273.9L270 273.7L272.8 261.6L274.5 272.6L276.4 269.6L278 277.9L279.5 279.2L286 280L288 277.1L290 272.4L292 279L300 281.9L315 282.7"/><path d="M48 283.6L102.8 283.6L104.2 282.9L105.8 280.5L111 248.4L114.8 232.6L120 207.5L122.2 202.1L123.8 197.2L126 192L126.8 191.3L128.2 191.3L129 190.9L132.8 186.6L135 186.6L136.5 187.5L137.2 187.5L141.8 184.1L143.2 184.6L144.8 184.3L147.8 179.5L148.5 178.8L150 178.8L151.5 179.4L156 174.6L158.2 174.4L159.8 173.6L162 170.8L163.5 169.5L166.5 169.3L169.5 167.5L171.8 165.5L174 165.4L175.5 165.8L177 165.8L179.2 165.1L180.8 166.4L181.5 166.6L186 166.5L188.2 169.6L189.8 170.7L191.2 172.5L196.5 182.3L198 185.7L201 193.2L203.2 200.3L204.8 203.2L206.2 207.6L207.8 209.5L211.5 218.5L213.8 222.6L216 225.5L218.2 230.4L222.8 236.8L227.2 244.9L230.2 248.8L231.8 249.9L232.5 250.9L236.2 253.4L238.5 255.5L239.2 256.6L240.8 257.7L243.8 260.7L245.2 261.1L246 261.7L247.7 226.4L248.7 268.1L249.5 268.1L250.5 218.8L251.4 247.8L252.3 233.7L253.3 247.4L254.3 227.6L255.5 245.9L256.6 215.9L257.8 252.3L259 247.8L260.5 252.9L262 232.9L264 275L264.6 269.6L266 272.4L267.5 253.5L269 274.6L270 273L272.8 259.4L274.5 273.3L276.4 267.3L278 277.4L279.5 279.6L286 279.9L288 278.2L290 272.8L292 279.7L300 282.1L315 282.9"/><path d="M48 283.7L100.5 283.7L102 283.4L102.8 282.6L104.2 278.3L105.8 271.2L111 239L117 216.7L120 203.3L122.2 198.9L124.5 192.5L126 189.5L126.8 188.4L129 186.3L133.5 179.1L134.2 178.6L137.2 179L141 175.1L141.8 174.9L142.5 175.2L144 176.6L144.8 176.6L148.5 173L150 173.1L151.5 174.3L154.5 173.6L156 172.1L157.5 171.6L158.2 171.8L159 172.5L159.8 172.5L161.2 171.5L162.8 171.1L164.2 169.7L165.8 169.6L168 168.4L169.5 166.9L173.2 164.9L174 164.8L175.5 165.6L177.8 164.7L181.5 167L186 168.5L189 172.7L190.5 174.1L192.8 177.6L198 187.9L203.2 200.3L204.8 203L211.5 219.5L217.5 228.5L219.8 232.9L223.5 237.9L225 240.8L227.2 243.5L230.2 248.3L231.8 249.7L234 252.9L235.5 253.9L237 255.6L238.5 255.7L239.2 256.1L241.5 259.7L243 260.5L244.5 262.5L246 263.2L247.7 223.7L249.1 246.7L250.5 235.5L251.4 250.1L252.3 219.2L253.3 242.1L254.3 221.9L255.5 238L256.6 233L257.8 252.6L259 244.9L260.5 255.9L262 240.8L264 273.3L264.6 269.3L266 273.6L267.5 259.3L269 273.2L270 272.8L272.8 259L274.5 273.6L276.4 267.8L278 277.8L279.5 279.4L286 279.9L288 277.9L290 274.8L292 278.9L300 281.9L315 282.8"/><path d="M48 283.7L101.2 283.7L102.8 283.4L103.5 282.8L104.2 281.8L105.8 277.3L111 240.7L114.8 223.8L117.8 207.9L120 199.9L126 186.3L126.8 185.6L128.2 185L132.8 180.5L133.5 180.1L134.2 180.1L136.5 181.5L137.2 181.4L138.8 179.9L140.2 180.2L141.8 179.4L144.8 180.5L149.2 176.2L150 176.1L150.8 176.6L151.5 176.5L155.2 172.8L158.2 172.6L159.8 172.9L163.5 170.4L167.2 170L169.5 168.2L171 167.5L171.8 167.3L173.2 168.3L174 168.2L177 167.2L178.5 167.2L180 166.8L181.5 167.7L183 168.1L184.5 169.3L186 168.8L189.8 173.3L191.2 175.7L194.2 179.4L196.5 185.5L201 193.7L204.8 204.6L207 208.8L211.5 219.9L213.8 222.9L216 227.7L217.5 229.7L219.8 234.2L223.5 238.9L228 246.2L229.5 247.4L232.5 251L235.5 254L237 254.7L240.8 257.7L243 260.5L245.2 260.6L246 261.1L247.7 224.7L248.7 268.1L249.5 268.1L250.5 231.3L251.4 242.1L252.3 224.2L253.3 246.6L254.3 228.9L255.5 254.2L256.6 215.2L257.8 258.8L259 239.9L260.5 246.5L262 205.8L264 272.8L264.6 270.2L266 273.4L267.5 260.1L269 273.4L270 273.9L272.8 263L274.5 273.2L276.4 267.8L278 278.2L279.5 279.5L286 280.4L288 278.7L290 274.2L292 279.7L300 282L315 283"/><path d="M48 283.8L101.2 283.8L103.5 283.6L104.2 283.2L105.8 281.3L106.5 277.9L111 248.1L120 207.4L124.5 196.2L126.8 192.8L131.2 189.4L133.5 186.8L134.2 186.8L135.8 188.5L136.5 188.4L138 187.1L141 182.8L144 183.8L144.8 183.7L146.2 181.6L148.5 177.4L150.8 177.3L151.5 176.9L153.8 175.2L156.8 171.8L158.2 172.4L159 172.4L160.5 170.9L162 170.4L162.8 169.6L163.5 169.3L165 169.6L166.5 168.8L167.2 168.7L168.8 168.9L170.2 167.8L171 167.7L172.5 168.7L174.8 169L176.2 169.6L177.8 169.1L180 169L183 170.7L186 170.9L189 174L190.5 175L192 176.8L195.8 184L198.8 191L201 194.9L204 204.6L206.2 208.9L211.5 221.3L216 227.4L217.5 231.1L219 232.9L221.2 236.8L223.5 239.4L226.5 245L228.8 248.5L232.5 252.7L234 252.7L235.5 254.9L238.5 257.3L240.8 260L243.8 262.7L246 263.6L247.7 208.7L248.7 266.9L249.5 266.9L250.5 217L251.4 242.1L252.3 233.2L253.3 246.3L254.3 243.1L255.5 259.1L256.6 221.6L257.8 254.3L259 247.1L260.5 260.9L262 215.8L264 272.8L264.6 270.7L266 273.7L267.5 256.3L269 274.8L270 272.5L272.8 260.1L274.5 273.1L276.4 265.6L278 277.8L279.5 280L286 279.7L288 278.5L290 273.4L292 279.4L300 281.9L315 282.9"/><path d="M48 283.9L101.2 283.8L103.5 283.6L104.2 283.2L105.8 281L106.5 277.4L111 247.3L118.5 209.6L120.8 201.6L125.2 192.4L126 191.3L126.8 190.8L129.8 191.8L130.5 191.7L132 190L134.2 189L135 189L136.5 190L137.2 190.1L138 189.7L141 185.8L141.8 185.3L144 185.4L148.5 180.2L149.2 179.8L151.5 181.4L156 176.3L158.2 176.3L159.8 175.4L161.2 175.4L163.5 172.8L164.2 172.6L165.8 173.5L166.5 173.3L168.8 170.4L170.2 169.7L171.8 168.3L172.5 168.2L173.2 168.6L174 168.4L175.5 166.3L177.8 164.9L179.2 165.5L180.8 167L183 167.6L183.8 168.2L185.2 169.6L186.8 170.5L189.8 173.9L196.5 186.3L198 188.2L211.5 221.7L213 223.9L214.5 226.9L217.5 231.1L219.8 235.9L221.2 237.8L223.5 239L227.2 245.1L228.8 246.7L230.2 249.3L233.2 251.7L236.2 255L237.8 255.2L240 257L241.5 259.7L242.2 260.4L246 263.5L247.7 207.2L249.1 249.1L250.5 243.8L251.4 256.6L252.3 216.7L253.3 260.2L254.3 249.4L255.5 254.8L256.6 217.9L257.8 257.3L259 250.2L260.5 256.9L262 229.3L264 274.8L264.6 272.9L266 273L267.5 258.4L269 274.1L270 274.5L272.8 262.3L274.5 273L276.4 268L278 278.6L279.5 280.2L286 280.1L288 278.2L290 275L292 279.7L300 282L315 283.1"/><path d="M149.8 176.0L150.7 65.5L151.6 176.0"/><path d="M155.1 172.0L156.0 125.4L156.9 172.0"/><path d="M159.2 170.0L160.1 129.0L161.0 170.0"/></g>
<g clip-path="url(#cr)" fill="none" stroke="#fff" stroke-width="2.1" stroke-linejoin="round"><path d="M329 283L382.2 283L384.5 276.5L393.5 207.5L397.2 191.1L398.8 189L401.8 183.2L404 181.2L406.2 181.7L407 180.9L408.5 178.1L409.2 177.3L411.5 176.4L414.5 177.6L416 177.9L416.8 177.6L418.2 176.1L419.8 173.6L420.5 173.1L423.5 173.8L424.2 173.3L426.5 169L428 167L431.8 166.1L434 164.6L435.5 162.8L437 162L438.5 160.7L439.2 160.4L440.8 160.6L441.5 160.1L444.5 156.9L447.5 154.8L449.8 154.5L452 153.5L454.2 151.4L455.8 150.9L456.5 151L458.8 152.5L460.2 152.5L464.8 155.4L466.2 157.4L468.5 159L470.8 163.2L473 165L476 170L478.2 176.1L479.8 178.6L481.2 184L485.8 196L487.2 201L488 202.5L489.5 204.1L494.8 213.9L497 216.8L499.2 221.3L500.8 223.6L502.2 227.7L505.2 233.1L509.8 237.8L512.8 244L514.2 245L516.5 248.3L518.8 249.5L521.8 253.7L524 255.9L525.5 257.9L527.7 170.7L529 213.6L530.3 197.6L531.2 224.7L532.2 175.5L533.6 240.1L535 197.6L536.2 227.7L537.4 194.7L539.4 207.8L541.4 190.9L542.5 229.4L543.6 216.8L544.6 252.7L545.6 230.2L546.5 249L547.3 237.9L548.6 274.2L551.5 274.4L553.3 265.7L555 274.4L557 269.6L559 277.2L566 277.7L568.5 274.4L570.4 269.6L572.5 277.2L574 278.2L585 280.6L595 282"/><path d="M329 283.1L382.2 283.1L384.5 276.7L393.5 208.1L397.2 191.5L399.5 187.8L402.5 180.4L403.2 179.2L405.5 178.7L407 177.1L409.2 172.2L410 171.3L411.5 171.6L415.2 174.5L416 174.5L419.8 170.2L420.5 170.4L422 171.6L422.8 171.7L425.8 170.2L427.2 168.8L428.8 166.8L429.5 166.3L431 167.9L431.8 168.3L432.5 168.1L435.5 164.6L438.5 163.5L440 162.2L443 161.4L446 157.8L449.8 157L452 154.2L455 153L458 153.1L459.5 154.5L460.2 154.6L461.8 154.1L463.2 154.7L464.8 156L466.2 156.5L467.8 157.9L472.2 165.3L474.5 167.6L476 169.9L478.2 175.9L480.5 179.7L485.8 194L489.5 202.4L492.5 206.8L495.5 213L497.8 216.5L501.5 223.6L503.8 228.8L504.5 230.1L506 231.4L508.2 235.4L509.8 237.1L513.5 243.2L515.8 245.2L518.8 248.7L521 253L525.5 258.4L527.7 187L528.7 264.2L529.3 264.2L530.3 205.2L531.2 212.5L532.2 195L533.6 242.3L535 232.4L536.2 252.3L537.4 198.7L538.4 265.5L540.4 265.5L541.4 218.2L542.5 239.8L543.6 231.3L544.6 255.6L545.6 237.5L546.5 253.1L547.3 251.6L548.6 274.7L551.5 275.2L553.3 266L555 275.7L557 270L559 278.1L566 278.7L568.5 275.5L570.4 272.1L572.5 278.3L595 282.3"/><path d="M329 283.1L382.2 283.1L383 282.2L384.5 278.4L386 268.7L393.5 207.6L397.2 190.7L399.5 186.8L401.8 181.5L403.2 179.8L404 179.6L405.5 180.5L406.2 180L410 173.7L410.8 173.4L411.5 173.7L413.8 175.4L416 175.3L419 171.5L419.8 171.2L422 170.9L423.5 172L424.2 172.1L426.5 169.9L428 167.9L428.8 167.7L431 168.9L433.2 169.1L435.5 165.3L437.8 163.8L439.2 162.1L442.2 160.1L446 155.2L447.5 154.5L449.8 153.9L451.2 154.3L452.8 152.2L453.5 151.7L455 151.5L456.5 150.8L457.2 150.8L458.8 151.7L460.2 153.4L462.5 153.6L465.5 157.1L467 159.8L468.5 161.3L470 164.2L472.2 166.7L477.5 177.3L484.2 194L485.8 198.9L486.5 200.3L488.8 203.2L490.2 204.5L492.5 209.2L495.5 214.2L497 216.1L499.2 221L501.5 224.1L502.2 225.7L504.5 231.9L509.8 238.1L512 242L514.2 245.2L515.8 248.3L518 250.3L525.5 260.3L527.7 184.1L528.7 264L529.3 264L530.3 236.8L531.2 242.7L532.2 215.3L533.6 242.7L535 237.5L536.2 249.3L537.4 222.3L538.4 263.3L540.4 263.3L541.4 220.3L542.5 241.3L543.6 231.3L544.6 253.6L545.6 247.4L546.5 252.9L547.3 245.8L548.6 274.7L549.3 276.4L551.5 274.7L553.3 269.2L555 274.8L557 271.8L559 278L566 278.4L568.5 275.9L570.4 269.7L572.5 277.6L574 279.1L585 281.1L595 282.2"/><path d="M329 283.2L382.2 283.2L383 282L384.5 278.1L385.2 273.3L387.5 257.8L393.5 210.5L397.2 193.3L401.8 183.3L403.2 181.1L405.5 181L407 180.1L409.2 176.2L410 175.7L411.5 176.6L413.8 177.1L415.2 178.1L416 178L419.8 172.4L420.5 172.2L422 173.2L423.5 173.2L424.2 172.9L428.8 167.9L430.2 167.6L432.5 168L434 166.8L437.8 162.9L439.2 162.7L441.5 161.5L443 161.6L446.8 157.9L448.2 158.2L450.5 156.9L452.8 156.3L453.5 155.6L455 153.3L455.8 152.9L458.8 153.7L460.2 154.7L461.8 154.6L465.5 157.1L467 159.3L469.2 161.5L472.2 165.9L473.8 167.3L476 171.2L481.2 183.1L485.8 195.9L491.8 207.6L495.5 216L497.8 218.9L500.8 224.8L502.2 228.6L506 236.2L507.5 237.2L509 238.6L511.2 242.2L515.8 247.8L517.2 248.6L518 249.4L521 253.4L522.5 256.2L525.5 258.6L527.7 202.6L529 241.5L530.3 226.5L531.2 240.7L532.2 193.1L533.6 227.2L535 217L536.2 252.6L537.4 233.4L539.4 238.9L541.4 222.8L542.5 252.1L543.6 241.5L544.6 255L545.6 240.2L546.5 250.8L547.3 243.3L548.6 276.2L549.3 275.7L551.5 276.5L553.3 267.8L555 275.2L557 272.5L559 277.9L566 279L568.5 275.7L570.4 272.3L572.5 278.3L585 281L595 282.3"/><path d="M329 283.3L382.2 283.3L383 282.3L384.5 279L386.8 266.5L393.5 218.1L396.5 201.8L397.2 198.6L402.5 186.3L403.2 185.4L404.8 185.6L405.5 184.9L407.8 182.1L409.2 179.4L410 178.7L410.8 178.3L411.5 178.3L413.8 179.5L415.2 179.5L417.5 178.2L419 175.8L419.8 175.1L420.5 174.7L422.8 175.1L423.5 174.7L425.8 172.1L428.8 167L429.5 166.4L431 167L431.8 166.9L434 165.3L437 160.1L438.5 160L441.5 159.2L443.8 157.6L445.2 157.7L447.5 155.1L450.5 153.4L452.8 153.5L453.5 153.3L455 152L456.5 151.3L457.2 151.5L458.8 152.8L460.2 152.6L463.2 153.4L465.5 155.6L467.8 159.1L470 161.5L473 166.5L474.5 167.9L476 170.4L483.5 187.2L485.8 194.3L487.2 198L488.8 199.9L492.5 206.1L495.5 213L497 215.2L505.2 234.7L509 239.5L510.5 240.1L511.2 240.7L513.5 244.5L518 248.6L522.5 255.3L525.5 259.2L527.7 202.9L528.7 264.3L529.3 264.3L530.3 211.7L531.2 235.6L532.2 211.8L533.6 247.8L535 236.4L536.2 239.7L537.4 236.4L538.4 264.2L540.4 264.2L541.4 202.2L542.5 241.8L543.6 238.8L544.6 251.3L545.6 240.1L546.5 253.4L547.3 250.7L548.6 274.5L549.3 276.7L551.5 274.8L553.3 267.3L555 275.5L557 271.7L559 278.9L566 278.1L568.5 276.7L570.4 272.8L572.5 277.8L574 279.3L585 281.3L595 282.5"/><path d="M329 283.3L382.2 283.1L384.5 277L393.5 210.3L397.2 194L399.5 190L401 186.5L401.8 185.3L404 183.8L405.5 183.3L407 181.9L409.2 176.5L410.8 175L411.5 174.6L413.8 176.2L414.5 176L415.2 175.6L416 174.6L418.2 171.1L421.2 169.3L422 169.7L423.5 171.6L424.2 171.4L427.2 167.8L428.8 167.2L429.5 167.2L431 168.1L432.5 167.7L434 167.7L434.8 167.5L437.8 164.3L438.5 164L440 164.2L441.5 164.8L442.2 164.5L443 163.9L444.5 161.7L447.5 160L449 160L450.5 158.7L452.8 158.5L454.2 156.8L456.5 155.4L457.2 155.5L459.5 157L461 158.6L462.5 158.5L464 159.6L468.5 164.3L470.8 168.3L472.2 170.1L477.5 180.2L480.5 188L482.8 191.9L485.8 200.6L488 205.4L488.8 206.6L490.2 208L492.5 211.8L494.8 214.7L496.2 218.1L498.5 220.1L504.5 233.9L506.8 236.3L509 240.9L511.2 243.4L513.5 247.6L515.8 249.3L517.2 250.9L521.8 256.8L525.5 260.9L527.7 215.5L529 234.8L530.3 216.9L531.2 222.5L532.2 215.3L533.6 229.9L535 215.8L536.2 241L537.4 205.3L539.4 229.2L541.4 206.7L542.5 245.7L543.6 224.4L544.6 255.8L545.6 248L546.5 258.4L547.3 251.1L548.6 274.4L549.3 275.5L551.5 275.1L553.3 267.8L555 274.9L557 273.1L559 278.1L566 278.7L568.5 275.2L570.4 271.8L572.5 278.1L585 281.5L595 282.4"/><path d="M329 283.4L382.2 283.3L384.5 278.4L386.8 265.6L393.5 219.4L396.5 203.6L397.2 200.1L399.5 195.1L401.8 188.2L403.2 185.2L404 184.8L404.8 185.5L405.5 185.6L408.5 179.1L410.8 177.2L413.8 177.2L415.2 178.1L416 177.9L419.8 174L422 175.3L424.2 176L425 175.8L427.2 172.5L429.5 170.5L430.2 170.2L433.2 169.8L434 169.2L438.5 163.7L440 163.2L442.2 161.8L443.8 161.5L446.8 158L448.2 157.5L450.5 157.5L451.2 157L452.8 154.9L454.2 154.3L455.8 153.1L456.5 153.1L459.5 154.4L461 155.7L464 156.9L464.8 157.5L467 160.9L468.5 162.6L470 165.9L472.2 168.9L475.2 173.9L477.5 179.9L480.5 185.2L486.5 203.3L490.2 209.1L493.2 215.5L494.8 217.5L497 221.7L500 224.9L502.2 228.6L504.5 233.5L506.8 237L512 242.6L515.8 248.4L518.8 251.5L521 254.7L525.5 259.9L527.7 201.4L528.7 262.1L529.3 262.1L530.3 204.9L531.2 225.9L532.2 202.6L533.6 233L535 211.7L536.2 221.2L537.4 206.6L538.4 263.3L540.4 263.3L541.4 207.3L542.5 246.2L543.6 222.3L544.6 256.6L545.6 251.5L546.5 260.4L547.3 256.2L548.6 275L549.3 276.5L551.5 275.9L553.3 268.3L555 275.7L557 271.3L559 278L566 279.3L568.5 276.7L570.4 272.8L572.5 277.7L574 278.9L585 281.2L595 282.5"/><path d="M329 283.5L382.2 283.4L383.8 281L384.5 279L386.8 265.9L393.5 212.7L396.5 196.5L397.2 193.5L398.8 190.8L401.8 183.3L403.2 182.3L407 181.8L409.2 178.7L410 178.2L410.8 178.4L412.2 179.7L414.5 182.9L415.2 183.2L416 182.8L418.2 180.3L420.5 178.8L421.2 178.5L424.2 178.7L425 178.2L427.2 174.7L428.8 173.2L429.5 173L431 173.4L432.5 172.8L437.8 167L440.8 165.3L442.2 165.2L444.5 162.3L446 160.9L446.8 160.5L448.2 160.4L449.8 159.4L451.2 159.7L452.8 157.9L456.5 155L464 159.3L468.5 164.2L470 166.4L472.2 167.8L474.5 170.9L476.8 172.9L482.8 185.7L485 193.5L489.5 203.7L492.5 209.2L494.8 216L500.8 227.7L502.2 229.1L504.5 234.4L506.8 237.8L509.8 240L514.2 247.6L518.8 252.6L520.2 254.7L521.8 256.1L524 259.4L525.5 260.1L527.7 218L528.7 263.3L529.3 263.3L530.3 225.4L531.2 247L532.2 222.1L533.6 230.7L535 217.9L536.2 239.8L537.4 219.5L538.4 264.5L540.4 264.5L541.4 214.3L542.5 245L543.6 221.3L544.6 252.7L545.6 237.9L546.5 253.8L547.3 248.6L548.6 273.6L549.3 276.3L551.5 274.9L553.3 266.9L555 276.6L557 270.3L559 277.9L566 278.3L568.5 275.1L570.4 270.1L572.5 278.5L574 279.2L585 281.6L595 282.6"/><path d="M329 283.5L382.2 283.5L383.8 282.4L384.5 281L386.8 273.3L387.5 268.9L393.5 225.8L397.2 202.1L402.5 188.4L403.2 187.7L404.8 187.8L407.8 186.8L410 184.2L410.8 183.7L413 185.7L414.5 186.3L416.8 185.1L418.2 183.2L420.5 181.6L421.2 181.7L424.2 183L425 182.4L426.5 180.1L429.5 177.2L430.2 176.8L431.8 177.6L433.2 176.3L434.8 175.6L437 171.9L438.5 170.7L439.2 170.2L440.8 170.5L441.5 170L446 163.8L447.5 163L449 161.8L452 160.5L455 156.7L456.5 156L458 156.7L459.5 158.1L461.8 159L465.5 163.1L469.2 170.8L471.5 172.9L476 180.3L477.5 184L481.2 190.5L482.8 194.9L485 199.2L486.5 203.1L488.8 206.6L491 211.5L493.2 214.1L495.5 220.1L497 222L498.5 225L501.5 228.2L503.8 232.9L506 236.3L507.5 237.1L508.2 237.8L513.5 246.2L515.8 248.7L517.2 251L519.5 253L524.8 260.2L525.5 260.8L527.7 197.4L529 248.6L530.3 236.6L531.2 240.3L532.2 224.4L533.6 231L535 217.4L536.2 236.9L537.4 205.1L539.4 227.9L541.4 195.7L542.5 251.5L543.6 241.1L544.6 249.1L545.6 239.9L546.5 258.8L547.3 254.2L548.6 274.4L549.3 277L551.5 275.6L553.3 268.5L555 277L557 272.4L559 278.7L566 279.4L568.5 275.8L570.4 271.8L572.5 278.4L585 281.6L595 282.7"/><path d="M329 283.6L382.2 283.4L383.8 281.5L384.5 279.8L386.8 269.5L393.5 224.7L396.5 207.7L397.2 204.6L399.5 199.9L401.8 193.4L403.2 190.4L405.5 191.9L406.2 192.1L410.8 187.1L412.2 187.6L413 187.6L414.5 188.4L415.2 188.4L416 187.8L419 183.7L423.5 180.4L425.8 176.7L428.8 172.7L432.5 172.1L435.5 169.2L440 167.2L442.2 167.3L443 167L446 163L449 161.5L449.8 161.5L452.8 158.9L455 158.4L456.5 157.7L457.2 157.7L460.2 160.6L462.5 160L464 160.8L466.2 164.2L469.2 169.9L470.8 171.5L473 172.9L475.2 176.8L477.5 182.7L479 185.4L482 192.2L484.2 199.1L485.8 201.9L487.2 206.1L493.2 215.9L494.8 220L496.2 223L500 228.9L501.5 230.7L504.5 236.5L506.8 239.3L510.5 242.5L513.5 247.4L514.2 248.2L515.8 249L518 252.5L518.8 253.2L520.2 253.7L521 254.5L524 259.7L525.5 260.6L527.7 182.7L528.7 263.2L529.3 263.2L530.3 217.5L531.2 233.6L532.2 212.2L533.6 243.4L535 226.5L536.2 246.4L537.4 218L538.4 264.3L540.4 264.3L541.4 215L542.5 247.3L543.6 226L544.6 253.7L545.6 241.2L546.5 252.1L547.3 240.1L548.6 275.1L551.5 276.7L553.3 270.1L555 276L557 271.1L559 278.4L566 278.6L568.5 276.3L570.4 271.2L572.5 278.6L585 281.2L595 282.8"/><path d="M329 283.7L381.5 283.7L383.8 282.8L384.5 281.6L386.8 275.6L387.5 271.7L397.2 207L401.8 192.1L403.2 188.1L404 187.5L405.5 187.1L406.2 186.3L408.5 182.2L410.8 179.4L412.2 179.1L413.8 180.4L415.2 180.3L416 179.7L418.2 176.3L420.5 175.2L421.2 175.3L423.5 176.7L424.2 176.6L426.5 173.4L428 171.7L428.8 171.4L431.8 172.6L434 172L437 169.4L437.8 169.1L439.2 169.3L440.8 168.8L444.5 166.5L446.8 164.6L447.5 164.3L449.8 164.5L454.2 159.8L456.5 158.3L458 159.4L460.2 160L461 159.9L464.8 162.8L467 165.9L467.8 166.5L470 170.6L472.2 172.7L473.8 174.6L476.8 180.5L478.2 184.8L482.8 192.8L488 207.2L491 211.3L496.2 221.1L497.8 225L499.2 225.8L500 226.8L501.5 230.6L506 238.6L508.2 239.9L511.2 244.3L512.8 246L514.2 247.2L515.8 249.6L520.2 254L522.5 257.3L525.5 260.8L527.7 202.2L529 221.6L530.3 209.9L531.2 241L532.2 185.8L533.6 238L535 218.7L536.2 226.6L537.4 215.2L539.4 248.1L541.4 232.3L542.5 253L543.6 235.9L544.6 253.1L545.6 243L546.5 257.1L547.3 253.5L548.6 274.5L549.3 276.4L551.5 275.8L553.3 267.5L555 275.8L557 270.8L559 278.7L566 279.2L568.5 276.1L570.4 272.4L572.5 278.1L574 279.3L585 281.8L595 282.7"/><path d="M329 283.7L380 283.7L382.2 283.5L383 282.8L384.5 280.5L386.8 272.1L395.8 211.8L397.2 203.3L402.5 188.1L403.2 186.8L404.8 188L405.5 187.9L408.5 184.3L410.8 182.3L411.5 182.5L414.5 186.1L416 186.7L416.8 186.3L419.8 181.7L420.5 181.4L423.5 183.3L424.2 183L425.8 181.6L428 176.8L428.8 176L431.8 176.6L433.2 176.1L435.5 172.2L437.8 169.6L440 169.9L443 169L446.8 165.7L449.8 164.5L452 162.6L454.2 159.9L456.5 159L460.2 161.6L463.2 162.4L467.8 169.1L473 174.9L476 178.8L478.2 183.6L482 190.4L487.2 203.6L491 209.7L498.5 225L500 226.7L503.8 235.7L508.2 240.8L509.8 243.4L514.2 249.7L516.5 252.8L518 253.9L520.2 257.3L521.8 258.6L523.2 259.2L525.5 261.3L527.7 191.3L528.7 263.6L529.3 263.6L530.3 226.1L531.2 249.9L532.2 196.3L533.6 245.2L535 221.8L536.2 248.8L537.4 229.9L538.4 264.1L540.4 264.1L541.4 204.7L542.5 245.2L543.6 240.7L544.6 253.1L545.6 238.2L546.5 244.5L547.3 240.9L548.6 273.4L549.3 276.4L551.5 276.5L553.3 269.1L555 276.3L557 273.1L559 278.3L566 279.3L568.5 275.4L570.4 273.4L572.5 279L574 280L585 281.9L595 282.9"/><path d="M329 283.8L380.8 283.8L383.8 283.5L386.8 277.1L387.5 273.1L397.2 207.3L401.8 194.5L403.2 191.2L404 190.8L405.5 191.7L406.2 191.2L407.8 189.1L409.2 185.9L410.8 183.9L412.2 183.6L415.2 184.5L416 184L417.5 180.6L419 178.9L420.5 178.5L424.2 180.2L426.5 177.5L428.8 176L431 177.6L432.5 177.8L437 171.9L441.5 170.1L444.5 167.6L446 165.8L447.5 165.4L449 165.6L450.5 164.1L452 163.7L456.5 159.8L457.2 160L458 160.6L459.5 162.8L460.2 163.1L461.8 162.5L464 164.6L465.5 167.5L467.8 170.1L470.8 175.5L475.2 181L482 196.2L483.5 198.7L486.5 206.1L489.5 211.6L491 213.2L493.2 218.2L494.8 220.4L495.5 221L500 229.3L501.5 231.2L503 235.1L506 240.9L510.5 244.8L512.8 248.2L516.5 252L518 252.8L520.2 255.8L524 259.5L525.5 260.4L527.7 214.2L528.7 262.8L529.3 262.8L530.3 204.3L531.2 241.5L532.2 216.4L533.6 239.4L535 202.7L536.2 214.6L537.4 204.9L538.4 263.7L540.4 263.7L541.4 204.9L542.5 254.5L543.6 236.1L544.6 251.1L545.6 248.4L546.5 252.7L547.3 251.1L548.6 276L551.5 276.9L553.3 269.1L555 275.2L557 270.7L559 278.6L566 278.7L568.5 275.2L570.4 271.5L572.5 278.2L574 279.8L595 282.9"/><path d="M329 283.9L380 283.9L382.2 283.6L383.8 282.6L384.5 281L386.8 272.4L393.5 224.7L396.5 206.9L397.2 203.3L398.8 200.6L401 194.7L403.2 191L406.2 191.7L407 191.4L408.5 189.3L410.8 187.1L412.2 187.3L414.5 189.1L415.2 189.2L416 188.5L418.2 184.8L419.8 183.4L422 182.9L424.2 183.9L425.8 181.3L428 178.9L429.5 178.5L431 177.4L433.2 177.2L437 172.8L439.2 170.6L440 170.1L443 169.2L445.2 167.1L447.5 166.3L449.8 164.4L452 163.4L453.5 162.1L455 160.2L457.2 161L458 161L460.2 163.3L462.5 163.1L464.8 165.5L466.2 166.4L470 172L473.8 175.6L476.8 181.4L479 187L481.2 190.3L485 201.1L486.5 204.1L489.5 211.8L491.8 215.1L494.8 221.5L497.8 226L500 231L501.5 232.8L503.8 237.4L505.2 239.8L506.8 240.9L508.2 243L509.8 244.3L512.8 249L515 250.8L516.5 252.5L518 253.4L522.5 259.8L524 260.7L525.5 262.1L527.7 216.5L529 247.4L530.3 237.2L531.2 240.1L532.2 198.9L533.6 230L535 206.5L536.2 249.4L537.4 217.3L539.4 231.7L541.4 203.9L542.5 250.8L543.6 236.6L544.6 246.5L545.6 231.8L546.5 259.5L547.3 252.1L548.6 273.3L549.3 275.8L551.5 276.2L553.3 266.7L555 275.5L557 273.4L559 278.5L566 279.6L568.5 277.3L570.4 273L572.5 278.9L574 280.1L595 282.9"/><path d="M430.0 172.0L430.9 116.5L431.8 172.0"/><path d="M435.1 170.0L436.0 112.9L436.9 170.0"/></g>
<rect x="69.0" y="282.80" width="5.8" height="1.1" fill="#fff"/>
<text x="80.4" y="289.2" font-size="14.1" fill="#fff" letter-spacing="0.9">0</text>
<rect x="350.1" y="282.80" width="5.8" height="1.1" fill="#fff"/>
<text x="360.4" y="289.2" font-size="14.1" fill="#fff" letter-spacing="0.9">0</text>
<text x="318.9" y="289.2" font-size="14.1" fill="#fff" text-anchor="end" letter-spacing="0.9" clip-path="url(#cl)">0</text>
<rect x="69.0" y="234.80" width="5.8" height="1.1" fill="#fff"/>
<text x="79.4" y="241.2" font-size="14.1" fill="#fff" letter-spacing="0.9">5</text>
<rect x="350.1" y="234.80" width="5.8" height="1.1" fill="#fff"/>
<text x="359.4" y="241.2" font-size="14.1" fill="#fff" letter-spacing="0.9">5</text>
<text x="318.9" y="241.2" font-size="14.1" fill="#fff" text-anchor="end" letter-spacing="0.9" clip-path="url(#cl)">5</text>
<rect x="69.0" y="186.80" width="5.8" height="1.1" fill="#fff"/>
<text x="79.4" y="193.2" font-size="14.1" fill="#fff" letter-spacing="0.9">10</text>
<rect x="350.1" y="186.80" width="5.8" height="1.1" fill="#fff"/>
<text x="359.4" y="193.2" font-size="14.1" fill="#fff" letter-spacing="0.9">10</text>
<text x="318.9" y="193.2" font-size="14.1" fill="#fff" text-anchor="end" letter-spacing="0.9" clip-path="url(#cl)">10</text>
<rect x="69.0" y="138.80" width="5.8" height="1.1" fill="#fff"/>
<text x="79.4" y="145.2" font-size="14.1" fill="#fff" letter-spacing="0.9">15</text>
<rect x="350.1" y="138.80" width="5.8" height="1.1" fill="#fff"/>
<text x="359.4" y="145.2" font-size="14.1" fill="#fff" letter-spacing="0.9">15</text>
<text x="318.9" y="145.2" font-size="14.1" fill="#fff" text-anchor="end" letter-spacing="0.9" clip-path="url(#cl)">15</text>
<rect x="69.0" y="90.80" width="5.8" height="1.1" fill="#fff"/>
<text x="79.4" y="97.2" font-size="14.1" fill="#fff" letter-spacing="0.9">20</text>
<rect x="350.1" y="90.80" width="5.8" height="1.1" fill="#fff"/>
<text x="359.4" y="97.2" font-size="14.1" fill="#fff" letter-spacing="0.9">20</text>
<text x="318.9" y="97.2" font-size="14.1" fill="#fff" text-anchor="end" letter-spacing="0.9" clip-path="url(#cl)">20</text>
<rect x="69.0" y="42.80" width="5.8" height="1.1" fill="#fff"/>
<text x="79.4" y="49.2" font-size="14.1" fill="#fff" letter-spacing="0.9">25</text>
<rect x="350.1" y="42.80" width="5.8" height="1.1" fill="#fff"/>
<text x="359.4" y="49.2" font-size="14.1" fill="#fff" letter-spacing="0.9">25</text>
<text x="318.9" y="49.2" font-size="14.1" fill="#fff" text-anchor="end" letter-spacing="0.9" clip-path="url(#cl)">25</text>
<text x="32.9" y="42.3" font-size="14.1" text-anchor="end" letter-spacing="0.5">On</text>
<text x="612.1" y="42.3" font-size="14.1" letter-spacing="0.5">On</text>
<text x="32.9" y="58.9" font-size="14.1" text-anchor="end" letter-spacing="0.5">Y</text>
<text x="612.1" y="58.9" font-size="14.1" letter-spacing="0.5">Y</text>
<text x="32.9" y="75.6" font-size="14.1" text-anchor="end" letter-spacing="0.5">Off</text>
<text x="612.1" y="75.6" font-size="14.1" letter-spacing="0.5">Off</text>
<text x="32.9" y="92.2" font-size="14.1" text-anchor="end" letter-spacing="0.5">P</text>
<text x="612.1" y="92.2" font-size="14.1" letter-spacing="0.5">P</text>
<text x="32.9" y="108.9" font-size="14.1" text-anchor="end" letter-spacing="0.5">O</text>
<text x="612.1" y="108.9" font-size="14.1" letter-spacing="0.5">O</text>
<text x="32.9" y="125.5" font-size="14.1" text-anchor="end" letter-spacing="0.5">N</text>
<text x="612.1" y="125.5" font-size="14.1" letter-spacing="0.5">N</text>
<text x="32.9" y="142.2" font-size="14.1" text-anchor="end" letter-spacing="0.5">M</text>
<text x="612.1" y="142.2" font-size="14.1" letter-spacing="0.5">M</text>
<text x="32.9" y="158.9" font-size="14.1" text-anchor="end" letter-spacing="0.5">L</text>
<text x="612.1" y="158.9" font-size="14.1" letter-spacing="0.5">L</text>
<text x="32.9" y="175.5" font-size="14.1" text-anchor="end" letter-spacing="0.5">K</text>
<text x="612.1" y="175.5" font-size="14.1" letter-spacing="0.5">K</text>
<text x="32.9" y="192.2" font-size="14.1" text-anchor="end" letter-spacing="0.5">J</text>
<text x="612.1" y="192.2" font-size="14.1" letter-spacing="0.5">J</text>
<text x="32.9" y="208.8" font-size="14.1" text-anchor="end" letter-spacing="0.5">I</text>
<text x="612.1" y="208.8" font-size="14.1" letter-spacing="0.5">I</text>
<text x="32.9" y="225.5" font-size="14.1" text-anchor="end" letter-spacing="0.5">H</text>
<text x="612.1" y="225.5" font-size="14.1" letter-spacing="0.5">H</text>
<text x="32.9" y="242.2" font-size="14.1" text-anchor="end" letter-spacing="0.5">G</text>
<text x="612.1" y="242.2" font-size="14.1" letter-spacing="0.5">G</text>
<text x="32.9" y="258.8" font-size="14.1" text-anchor="end" letter-spacing="0.5">F</text>
<text x="612.1" y="258.8" font-size="14.1" letter-spacing="0.5">F</text>
<text x="32.9" y="275.5" font-size="14.1" text-anchor="end" letter-spacing="0.5">E</text>
<text x="612.1" y="275.5" font-size="14.1" letter-spacing="0.5">E</text>
<text x="32.9" y="292.1" font-size="14.1" text-anchor="end" letter-spacing="0.5">D</text>
<text x="612.1" y="292.1" font-size="14.1" letter-spacing="0.5">D</text>
<text x="32.9" y="308.8" font-size="14.1" text-anchor="end" letter-spacing="0.5">C</text>
<text x="612.1" y="308.8" font-size="14.1" letter-spacing="0.5">C</text>
<text x="32.9" y="325.4" font-size="14.1" text-anchor="end" letter-spacing="0.5">B</text>
<text x="612.1" y="325.4" font-size="14.1" letter-spacing="0.5">B</text>
<text x="32.9" y="342.1" font-size="14.1" text-anchor="end" letter-spacing="0.5">A</text>
<text x="612.1" y="342.1" font-size="14.1" letter-spacing="0.5">A</text>
<text x="32.9" y="358.8" font-size="14.1" text-anchor="end" letter-spacing="0.5">Off</text>
<text x="612.1" y="358.8" font-size="14.1" letter-spacing="0.5">Off</text>
<text x="32.9" y="375.4" font-size="14.1" text-anchor="end" letter-spacing="0.5">X</text>
<text x="612.1" y="375.4" font-size="14.1" letter-spacing="0.5">X</text>
<text x="32.9" y="392.1" font-size="14.1" text-anchor="end" letter-spacing="0.5">On</text>
<text x="612.1" y="392.1" font-size="14.1" letter-spacing="0.5">On</text>
<rect x="49" y="408.3" width="1" height="5.1"/>
<text x="48.9" y="425.7" font-size="10" text-anchor="middle">0</text>
<rect x="89" y="408.3" width="1" height="5.1"/>
<text x="89.6" y="425.7" font-size="10" text-anchor="middle">50</text>
<rect x="130" y="408.3" width="1" height="5.1"/>
<text x="130.0" y="425.7" font-size="10" text-anchor="middle">100</text>
<rect x="171" y="408.3" width="1" height="5.1"/>
<text x="171.1" y="425.7" font-size="10" text-anchor="middle">150</text>
<rect x="211" y="408.3" width="1" height="5.1"/>
<text x="211.7" y="425.7" font-size="10" text-anchor="middle">200</text>
<rect x="252" y="408.3" width="1" height="5.1"/>
<text x="252.8" y="425.7" font-size="10" text-anchor="middle">250</text>
<rect x="293" y="408.3" width="1" height="5.1"/>
<text x="292.8" y="425.7" font-size="10" text-anchor="middle">300</text>
<rect x="329" y="408.3" width="1" height="5.1"/>
<text x="328.9" y="425.7" font-size="10" text-anchor="middle">0</text>
<rect x="370" y="408.3" width="1" height="5.1"/>
<text x="369.6" y="425.7" font-size="10" text-anchor="middle">50</text>
<rect x="410" y="408.3" width="1" height="5.1"/>
<text x="409.9" y="425.7" font-size="10" text-anchor="middle">100</text>
<rect x="451" y="408.3" width="1" height="5.1"/>
<text x="451.1" y="425.7" font-size="10" text-anchor="middle">150</text>
<rect x="492" y="408.3" width="1" height="5.1"/>
<text x="491.7" y="425.7" font-size="10" text-anchor="middle">200</text>
<rect x="532" y="408.3" width="1" height="5.1"/>
<text x="532.8" y="425.7" font-size="10" text-anchor="middle">250</text>
<rect x="573" y="408.3" width="1" height="5.1"/>
<text x="573.6" y="425.7" font-size="10" text-anchor="middle">300</text>
<text x="183.2" y="15.6" font-size="17" text-anchor="middle" letter-spacing="1">3.6 (Tile126=126) X</text>
<text x="463.6" y="15.6" font-size="17" text-anchor="middle" letter-spacing="1">3.6 (Tile126=126) Y</text>
<text transform="translate(2.9,218) rotate(-90)" font-size="14.1" text-anchor="middle" letter-spacing="0.7">Dipole</text>
</svg></div></body></html>
